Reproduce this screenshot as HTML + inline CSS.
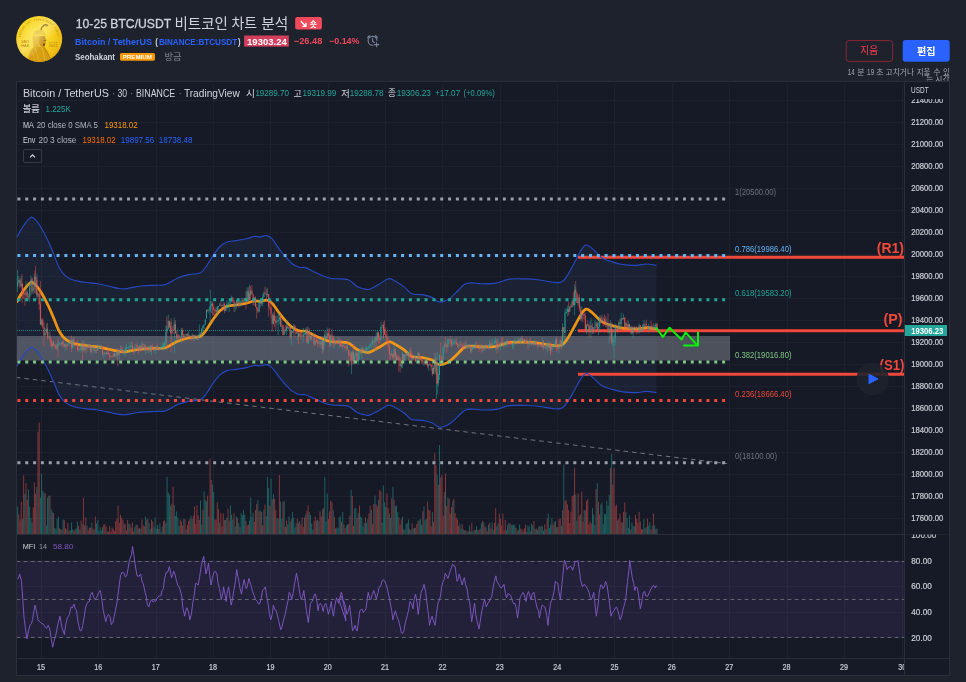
<!DOCTYPE html>
<html><head><meta charset="utf-8"><title>chart</title>
<style>html,body{margin:0;padding:0;background:#1e222d;width:966px;height:682px;overflow:hidden;font-family:"Liberation Sans","Noto Sans CJK KR",sans-serif}</style></head>
<body><svg width="966" height="682" viewBox="0 0 966 682" font-family="Liberation Sans, Noto Sans CJK KR, sans-serif" style="position:absolute;left:0;top:0;will-change:transform"><defs><radialGradient id="coin" cx="40%" cy="36%" r="72%"><stop offset="0" stop-color="#fbe338"/><stop offset=".55" stop-color="#f7cf1e"/><stop offset=".85" stop-color="#efbb14"/><stop offset="1" stop-color="#dda010"/></radialGradient>
<linearGradient id="shine" x1="0" y1="0" x2="1" y2="1"><stop offset=".22" stop-color="#fff" stop-opacity="0"/><stop offset=".45" stop-color="#fff9a8" stop-opacity=".42"/><stop offset=".62" stop-color="#fff" stop-opacity="0"/></linearGradient>
<clipPath id="coinc"><circle cx="39.2" cy="39" r="23"/></clipPath></defs>
<circle cx="39.2" cy="39" r="23" fill="url(#coin)"/>
<g clip-path="url(#coinc)">
<path d="M28.6 58.5C28.8 53.5 30.4 49.6 33.6 47.2L38.6 46.2L43.6 46.6C45.4 48.4 47.6 51 49 54.4C49.8 56.4 50.2 58 50.4 59.6C44 64 35 63.6 28.6 58.5Z" fill="#d49a14" fill-opacity=".9"/>
<path d="M34.4 47.6C36.4 51 37.8 55 38.4 60.4M31.4 50.8C33.2 53.4 34.2 56.6 34.6 60M41.4 47C43 50.6 44.2 55 44.6 60" stroke="#f6d340" stroke-width=".55" fill="none" opacity=".8"/>
<path d="M43.9 46.8C46.2 50.4 48.6 54.4 50.2 58.4" stroke="#b07a0c" stroke-width=".6" fill="none"/>
<path d="M32.9 36.6C32.3 40 32.6 43.6 33.8 47.2L39 47L39.4 36.4Z" fill="#d9a21a" fill-opacity=".85"/>
<path d="M39.2 36.2L45.1 35.8C45.3 37.4 45.5 38.6 46.5 40.2C46.3 40.9 45.7 41.1 45.5 41.3C45.6 42.6 45.5 43.6 45.1 44.6C44.7 46 43.6 46.8 42.4 46.6C41 46.4 39.8 45.6 39.2 44.4Z" fill="#c58a12" fill-opacity=".9"/>
<path d="M43 43.4C43.8 43 44.8 43.1 45.3 43.4C45.3 44.6 44.9 46 44 46.6C43.2 46.4 42.8 45 43 43.4Z" fill="#70460a" fill-opacity=".85"/>
<path d="M43.2 40.9C44 40.3 45.2 40.4 46 40.9" stroke="#70460a" stroke-width=".7" fill="none"/>
<path d="M42.6 38.2H44.4" stroke="#8a5a0a" stroke-width=".5" fill="none"/>
<path d="M32.7 37C32.6 33.4 34.6 30.4 38.2 29.6C41.8 28.9 44.6 31 45.2 34.2C45.3 34.9 45.3 35.5 45.2 36C41 35 36.6 35.4 32.7 37Z" fill="#f0c226"/>
<path d="M33.6 34.2C37 32.6 41.4 32.4 44.8 33.4M34.6 32C37.6 30.8 41.2 30.8 43.8 31.6" stroke="#c99212" stroke-width=".45" fill="none" opacity=".85"/>
<path d="M36.6 30.6C35.4 31.8 34.8 33.6 34.8 35.6" stroke="#fbe66a" stroke-width=".7" fill="none" opacity=".8"/>
<path d="M40.9 29.8C41.4 27.8 42.4 26.2 44 25.2C45.2 24.5 46.8 24.6 47.8 25.6" stroke="#6a4508" stroke-width="1.15" fill="none" stroke-linecap="round"/>
<path d="M44 25.2C44.8 25.8 45.8 26.2 46.8 26.2" stroke="#6a4508" stroke-width=".6" fill="none" stroke-linecap="round"/>
</g>
<circle cx="39.2" cy="39" r="23" fill="url(#shine)"/>
<text x="21.20" y="43.10" font-size="2.90" fill="#b07f0c" text-anchor="start" font-weight="normal" textLength="8.20" lengthAdjust="spacingAndGlyphs" >SEO</text>
<text x="21.20" y="46.60" font-size="2.90" fill="#b07f0c" text-anchor="start" font-weight="normal" textLength="8.20" lengthAdjust="spacingAndGlyphs" >HAK</text>
<text x="48.60" y="42.90" font-size="2.50" fill="#b07f0c" text-anchor="start" font-weight="normal" textLength="9.00" lengthAdjust="spacingAndGlyphs" >SINCE</text>
<text x="48.60" y="46.60" font-size="3.30" fill="#b07f0c" text-anchor="start" font-weight="normal" textLength="9.00" lengthAdjust="spacingAndGlyphs" >2021</text>
<text x="0" y="0" font-size="2.5" fill="#b07f0c" text-anchor="middle" transform="translate(20.78 36.41) rotate(-82.0)">S</text>
<text x="0" y="0" font-size="2.5" fill="#b07f0c" text-anchor="middle" transform="translate(21.17 34.43) rotate(-75.8)">E</text>
<text x="0" y="0" font-size="2.5" fill="#b07f0c" text-anchor="middle" transform="translate(21.77 32.50) rotate(-69.5)">O</text>
<text x="0" y="0" font-size="2.5" fill="#b07f0c" text-anchor="middle" transform="translate(22.58 30.64) rotate(-63.3)">H</text>
<text x="0" y="0" font-size="2.5" fill="#b07f0c" text-anchor="middle" transform="translate(23.59 28.89) rotate(-57.1)">A</text>
<text x="0" y="0" font-size="2.5" fill="#b07f0c" text-anchor="middle" transform="translate(24.78 27.26) rotate(-50.8)">K</text>
<text x="0" y="0" font-size="2.5" fill="#b07f0c" text-anchor="middle" transform="translate(27.65 24.42) rotate(-38.4)">A</text>
<text x="0" y="0" font-size="2.5" fill="#b07f0c" text-anchor="middle" transform="translate(29.30 23.25) rotate(-32.2)">N</text>
<text x="0" y="0" font-size="2.5" fill="#b07f0c" text-anchor="middle" transform="translate(31.07 22.27) rotate(-25.9)">T</text>
<text x="0" y="0" font-size="2.5" fill="#b07f0c" text-anchor="middle" transform="translate(34.87 20.91) rotate(-13.5)">I</text>
<text x="0" y="0" font-size="2.5" fill="#b07f0c" text-anchor="middle" transform="translate(36.86 20.55) rotate(-7.2)">N</text>
<text x="0" y="0" font-size="2.5" fill="#b07f0c" text-anchor="middle" transform="translate(38.88 20.40) rotate(-1.0)">V</text>
<text x="0" y="0" font-size="2.5" fill="#b07f0c" text-anchor="middle" transform="translate(40.90 20.48) rotate(5.2)">E</text>
<text x="0" y="0" font-size="2.5" fill="#b07f0c" text-anchor="middle" transform="translate(42.90 20.77) rotate(11.5)">S</text>
<text x="0" y="0" font-size="2.5" fill="#b07f0c" text-anchor="middle" transform="translate(44.85 21.28) rotate(17.7)">T</text>
<text x="0" y="0" font-size="2.5" fill="#b07f0c" text-anchor="middle" transform="translate(46.74 22.00) rotate(23.9)">M</text>
<text x="0" y="0" font-size="2.5" fill="#b07f0c" text-anchor="middle" transform="translate(48.54 22.92) rotate(30.2)">E</text>
<text x="0" y="0" font-size="2.5" fill="#b07f0c" text-anchor="middle" transform="translate(50.23 24.03) rotate(36.4)">N</text>
<text x="0" y="0" font-size="2.5" fill="#b07f0c" text-anchor="middle" transform="translate(51.79 25.31) rotate(42.6)">T</text>
<text x="0" y="0" font-size="2.5" fill="#b07f0c" text-anchor="middle" transform="translate(54.45 28.35) rotate(55.1)">F</text>
<text x="0" y="0" font-size="2.5" fill="#b07f0c" text-anchor="middle" transform="translate(55.52 30.07) rotate(61.3)">O</text>
<text x="0" y="0" font-size="2.5" fill="#b07f0c" text-anchor="middle" transform="translate(56.39 31.89) rotate(67.5)">R</text>
<text x="0" y="0" font-size="2.5" fill="#b07f0c" text-anchor="middle" transform="translate(57.06 33.80) rotate(73.8)">U</text>
<text x="0" y="0" font-size="2.5" fill="#b07f0c" text-anchor="middle" transform="translate(57.52 35.77) rotate(80.0)">M</text>
<text x="75.80" y="27.90" font-size="13.00" fill="#d1d4dc" text-anchor="start" font-weight="normal" textLength="95.40" lengthAdjust="spacingAndGlyphs" stroke="#d1d4dc" stroke-width=".3">10-25 BTC/USDT</text>
<text x="174.50" y="28.66" font-size="14.58" fill="#d1d4dc" text-anchor="start" font-weight="normal" textLength="53.50" lengthAdjust="spacingAndGlyphs">비트코인</text>
<text x="231.40" y="28.47" font-size="14.07" fill="#d1d4dc" text-anchor="start" font-weight="normal" textLength="25.70" lengthAdjust="spacingAndGlyphs">차트</text>
<text x="261.20" y="28.75" font-size="14.84" fill="#d1d4dc" text-anchor="start" font-weight="normal" textLength="27.10" lengthAdjust="spacingAndGlyphs">분석</text>
<rect x="295.2" y="17" width="26.7" height="12.6" rx="2" fill="#f04a5c"/>
<path d="M300.8 21.2L305.8 26.2M302.4 26.4H306V22.8" stroke="#fff" stroke-width="1.3" fill="none"/>
<text x="309.80" y="26.62" font-size="7.88" fill="#ffffff" text-anchor="start" font-weight="bold">숏</text>
<text x="75.00" y="44.80" font-size="8.70" fill="#2962ff" text-anchor="start" font-weight="bold" textLength="77.00" lengthAdjust="spacingAndGlyphs" >Bitcoin / TetherUS</text>
<text x="155.30" y="44.80" font-size="8.70" fill="#d1d4dc" text-anchor="start" font-weight="bold" textLength="2.60" lengthAdjust="spacingAndGlyphs" >(</text>
<text x="158.90" y="44.80" font-size="8.70" fill="#2962ff" text-anchor="start" font-weight="bold" textLength="78.20" lengthAdjust="spacingAndGlyphs" >BINANCE:BTCUSDT</text>
<text x="238.00" y="44.80" font-size="8.70" fill="#d1d4dc" text-anchor="start" font-weight="bold" textLength="2.60" lengthAdjust="spacingAndGlyphs" >)</text>
<rect x="244.1" y="35.5" width="44.7" height="11.1" fill="#d23f5d"/>
<text x="247.10" y="44.60" font-size="9.40" fill="#ffffff" text-anchor="start" font-weight="bold" textLength="39.60" lengthAdjust="spacingAndGlyphs" >19303.24</text>
<text x="293.80" y="44.30" font-size="8.80" fill="#f0475a" text-anchor="start" font-weight="bold" textLength="28.50" lengthAdjust="spacingAndGlyphs" >−26.48</text>
<text x="329.00" y="44.30" font-size="8.80" fill="#f0475a" text-anchor="start" font-weight="bold" textLength="30.50" lengthAdjust="spacingAndGlyphs" >−0.14%</text>
<g stroke="#78849a" stroke-width="1.15" fill="none" stroke-linecap="round"><path d="M376.85 40.3A4.4 4.4 0 1 0 372.9 45.2"/><path d="M372.5 38.6V41.3L374.3 42.5"/><path d="M367.9 37.6L369.5 35.9M377.2 37.6L375.6 35.9" stroke-width="1.5"/><path d="M376.6 42.5V46.7M374.5 44.6H378.8" stroke-width="1.1"/></g>
<text x="75.00" y="59.70" font-size="8.60" fill="#d1d4dc" text-anchor="start" font-weight="bold" textLength="40.00" lengthAdjust="spacingAndGlyphs" >Seohakant</text>
<rect x="120" y="53" width="35" height="7.7" rx="1.6" fill="#ff9800"/>
<text x="122.70" y="59.20" font-size="5.90" fill="#ffffff" text-anchor="start" font-weight="bold" textLength="29.30" lengthAdjust="spacingAndGlyphs" >PREMIUM</text>
<text x="164.50" y="59.56" font-size="9.22" fill="#868993" text-anchor="start" font-weight="normal" textLength="16.90" lengthAdjust="spacingAndGlyphs">방금</text>
<rect x="846.2" y="40.6" width="46.5" height="20.8" rx="3" fill="none" stroke="#8c2733" stroke-width="1"/>
<text x="860.30" y="54.38" font-size="9.83" fill="#d83a4a" text-anchor="start" font-weight="normal" stroke="#d83a4a" stroke-width=".2" textLength="17.80" lengthAdjust="spacingAndGlyphs">지움</text>
<rect x="902.7" y="40.1" width="47" height="21.6" rx="3" fill="#2962ff"/>
<text x="917.00" y="54.50" font-size="10.30" fill="#ffffff" text-anchor="start" font-weight="bold" textLength="18.60" lengthAdjust="spacingAndGlyphs">편집</text>
<text x="847.80" y="74.70" font-size="8.20" fill="#a3a6b0" text-anchor="start" font-weight="normal" textLength="6.90" lengthAdjust="spacingAndGlyphs" >14</text>
<text x="857.20" y="74.74" font-size="7.93" fill="#a3a6b0" text-anchor="start" font-weight="normal">분</text>
<text x="867.10" y="74.70" font-size="8.20" fill="#a3a6b0" text-anchor="start" font-weight="normal" textLength="7.10" lengthAdjust="spacingAndGlyphs" >19</text>
<text x="876.10" y="75.30" font-size="8.30" fill="#a3a6b0" text-anchor="start" font-weight="normal">초</text>
<text x="885.60" y="74.71" font-size="7.78" fill="#a3a6b0" text-anchor="start" font-weight="normal" textLength="28.50" lengthAdjust="spacingAndGlyphs">고치거나</text>
<text x="916.70" y="74.64" font-size="7.60" fill="#a3a6b0" text-anchor="start" font-weight="normal" textLength="13.80" lengthAdjust="spacingAndGlyphs">지울</text>
<text x="933.20" y="74.65" font-size="7.95" fill="#a3a6b0" text-anchor="start" font-weight="normal">수</text>
<text x="942.90" y="74.61" font-size="7.48" fill="#a3a6b0" text-anchor="start" font-weight="normal">있</text>
<text x="926.30" y="82.09" font-size="7.56" fill="#a3a6b0" text-anchor="start" font-weight="normal">는</text>
<text x="935.30" y="82.21" font-size="7.78" fill="#a3a6b0" text-anchor="start" font-weight="normal" textLength="14.20" lengthAdjust="spacingAndGlyphs">시간</text>
<rect x="16.5" y="81.5" width="933.0" height="594.0" fill="#161a26" stroke="#2a2e39" stroke-width="1"/>
<clipPath id="cpm"><rect x="17.0" y="82.0" width="887.0" height="452.0"/></clipPath>
<clipPath id="cpi"><rect x="17.0" y="535.0" width="887.0" height="123.0"/></clipPath>
<clipPath id="cpa"><rect x="904.5" y="82.0" width="45.0" height="577.0"/></clipPath>
<path d="M41.5 81.5V658.5M98.5 81.5V658.5M156.5 81.5V658.5M213.5 81.5V658.5M270.5 81.5V658.5M328.5 81.5V658.5M385.5 81.5V658.5M442.5 81.5V658.5M500.5 81.5V658.5M557.5 81.5V658.5M614.5 81.5V658.5M672.5 81.5V658.5M729.5 81.5V658.5M787.5 81.5V658.5M844.5 81.5V658.5M902.5 81.5V658.5M16.5 518.5H904.5M16.5 496.5H904.5M16.5 474.5H904.5M16.5 452.5H904.5M16.5 430.5H904.5M16.5 408.5H904.5M16.5 386.5H904.5M16.5 364.5H904.5M16.5 342.5H904.5M16.5 320.5H904.5M16.5 298.5H904.5M16.5 276.5H904.5M16.5 254.5H904.5M16.5 232.5H904.5M16.5 210.5H904.5M16.5 188.5H904.5M16.5 166.5H904.5M16.5 144.5H904.5M16.5 122.5H904.5M16.5 100.5H904.5M16.5 637.5H904.5M16.5 612.5H904.5M16.5 586.5H904.5M16.5 561.5H904.5" stroke="#1d212d" stroke-width="1" fill="none"/>
<path d="M16.5 534.5H949.5M16.5 658.5H949.5M904.5 81.5V675.5" stroke="#2a2e39" stroke-width="1" fill="none"/>
<g clip-path="url(#cpm)">
<path d="M16.90 237.43C17.42 236.41 18.98 233.17 20.00 231.35C21.02 229.53 21.83 228.23 23.00 226.51C24.17 224.79 25.67 222.59 27.00 221.05C28.33 219.50 29.83 217.67 31.00 217.24C32.17 216.81 32.98 217.75 34.00 218.47C35.02 219.20 35.70 219.68 37.10 221.56C38.50 223.45 40.48 226.41 42.40 229.80C44.32 233.20 46.68 237.82 48.60 241.96C50.52 246.10 52.15 250.39 53.90 254.63C55.65 258.87 57.35 264.02 59.10 267.40C60.85 270.78 62.58 273.03 64.40 274.92C66.22 276.81 67.63 277.65 70.00 278.73C72.37 279.81 75.27 280.72 78.60 281.41C81.93 282.09 86.82 282.45 90.00 282.85C93.18 283.24 94.37 283.18 97.70 283.78C101.03 284.38 106.62 285.70 110.00 286.45C113.38 287.21 115.60 287.91 118.00 288.31C120.40 288.70 121.73 289.01 124.40 288.82C127.07 288.63 130.82 287.69 134.00 287.18C137.18 286.66 140.00 286.04 143.50 285.73C147.00 285.42 151.50 285.46 155.00 285.32C158.50 285.18 162.00 285.41 164.50 284.91C167.00 284.41 167.78 283.50 170.00 282.33C172.22 281.17 174.75 279.19 177.80 277.91C180.85 276.62 184.50 275.47 188.30 274.61C192.10 273.75 197.52 274.27 200.60 272.76C203.68 271.24 204.73 268.41 206.80 265.55C208.87 262.68 210.80 258.73 213.00 255.55C215.20 252.38 217.67 248.76 220.00 246.49C222.33 244.22 224.35 242.94 227.00 241.96C229.65 240.98 232.67 241.15 235.90 240.62C239.13 240.09 243.33 239.45 246.40 238.77C249.47 238.08 251.95 236.83 254.30 236.50C256.65 236.17 258.43 236.96 260.50 236.81C262.57 236.65 264.78 235.26 266.70 235.57C268.62 235.88 270.10 236.71 272.00 238.66C273.90 240.62 275.90 244.34 278.10 247.31C280.30 250.28 282.85 253.75 285.20 256.48C287.55 259.21 289.87 261.89 292.20 263.69C294.53 265.49 297.00 266.64 299.20 267.30C301.40 267.95 303.20 267.00 305.40 267.61C307.60 268.21 309.62 269.60 312.40 270.90C315.18 272.21 319.17 274.21 322.10 275.43C325.03 276.65 327.68 277.67 330.00 278.21C332.32 278.76 332.95 278.47 336.00 278.73C339.05 278.99 344.78 278.47 348.30 279.76C351.82 281.05 354.48 284.94 357.10 286.45C359.72 287.97 361.93 288.36 364.00 288.82C366.07 289.29 367.12 289.92 369.50 289.24C371.88 288.55 375.08 286.45 378.30 284.70C381.52 282.95 385.87 279.24 388.80 278.73C391.73 278.21 393.25 280.17 395.90 281.61C398.55 283.06 402.07 285.36 404.70 287.38C407.33 289.41 408.77 292.55 411.70 293.77C414.63 294.99 418.92 294.09 422.30 294.69C425.68 295.30 429.37 296.22 432.00 297.37C434.63 298.52 436.20 300.89 438.10 301.60C440.00 302.30 441.35 302.21 443.40 301.60C445.45 300.98 448.05 299.66 450.40 297.89C452.75 296.12 455.15 293.27 457.50 290.99C459.85 288.70 462.15 285.54 464.50 284.19C466.85 282.83 468.67 282.92 471.60 282.85C474.53 282.78 478.03 283.72 482.10 283.78C486.17 283.83 491.48 283.93 496.00 283.16C500.52 282.39 504.37 279.85 509.20 279.14C514.03 278.44 520.17 278.83 525.00 278.94C529.83 279.04 533.57 279.21 538.20 279.76C542.83 280.31 548.83 281.91 552.80 282.23C556.77 282.56 559.37 283.18 562.00 281.72C564.63 280.26 566.40 276.89 568.60 273.48C570.80 270.06 573.00 265.29 575.20 261.22C577.40 257.15 579.90 251.78 581.80 249.07C583.70 246.35 584.62 244.81 586.60 244.95C588.58 245.08 591.20 247.76 593.70 249.89C596.20 252.02 598.52 255.73 601.60 257.72C604.68 259.71 608.68 260.70 612.20 261.84C615.72 262.97 618.75 263.93 622.70 264.52C626.65 265.10 631.93 265.43 635.90 265.34C639.87 265.25 643.07 264.00 646.50 264.00C649.93 264.00 654.83 265.12 656.50 265.34 L656.50 392.66 L656.50 392.66C654.83 392.45 649.93 391.40 646.50 391.40C643.07 391.40 639.87 392.58 635.90 392.66C631.93 392.74 626.65 392.43 622.70 391.88C618.75 391.33 615.72 390.43 612.20 389.36C608.68 388.30 604.68 387.36 601.60 385.48C598.52 383.61 596.20 380.12 593.70 378.11C591.20 376.11 588.58 373.58 586.60 373.45C584.62 373.33 583.70 374.78 581.80 377.33C579.90 379.89 577.40 384.95 575.20 388.78C573.00 392.61 570.80 397.11 568.60 400.32C566.40 403.54 564.63 406.71 562.00 408.08C559.37 409.46 556.77 408.88 552.80 408.57C548.83 408.26 542.83 406.76 538.20 406.24C533.57 405.72 529.83 405.56 525.00 405.46C520.17 405.37 514.03 405.00 509.20 405.66C504.37 406.32 500.52 408.71 496.00 409.44C491.48 410.17 486.17 410.07 482.10 410.02C478.03 409.98 474.53 409.09 471.60 409.15C468.67 409.22 466.85 409.13 464.50 410.41C462.15 411.69 459.85 414.66 457.50 416.81C455.15 418.96 452.75 421.65 450.40 423.31C448.05 424.98 445.45 426.22 443.40 426.80C441.35 427.39 440.00 427.47 438.10 426.80C436.20 426.14 434.63 423.91 432.00 422.83C429.37 421.74 425.68 420.87 422.30 420.31C418.92 419.74 414.63 420.58 411.70 419.43C408.77 418.28 407.33 415.33 404.70 413.42C402.07 411.51 398.55 409.34 395.90 407.99C393.25 406.63 391.73 404.79 388.80 405.27C385.87 405.76 381.52 409.25 378.30 410.90C375.08 412.55 371.88 414.52 369.50 415.16C367.12 415.81 366.07 415.21 364.00 414.78C361.93 414.34 359.72 413.97 357.10 412.55C354.48 411.12 351.82 407.45 348.30 406.24C344.78 405.03 339.05 405.51 336.00 405.27C332.95 405.03 332.32 405.30 330.00 404.79C327.68 404.27 325.03 403.31 322.10 402.17C319.17 401.02 315.18 399.13 312.40 397.90C309.62 396.67 307.60 395.36 305.40 394.79C303.20 394.23 301.40 395.12 299.20 394.50C297.00 393.89 294.53 392.81 292.20 391.11C289.87 389.41 287.55 386.89 285.20 384.32C282.85 381.75 280.30 378.48 278.10 375.69C275.90 372.89 273.90 369.38 272.00 367.54C270.10 365.69 268.62 364.92 266.70 364.63C264.78 364.34 262.57 365.65 260.50 365.79C258.43 365.94 256.65 365.19 254.30 365.50C251.95 365.81 249.47 366.99 246.40 367.63C243.33 368.28 239.13 368.88 235.90 369.38C232.67 369.88 229.65 369.72 227.00 370.64C224.35 371.56 222.33 372.78 220.00 374.91C217.67 377.04 215.20 380.45 213.00 383.45C210.80 386.44 208.87 390.15 206.80 392.85C204.73 395.55 203.68 398.22 200.60 399.64C197.52 401.07 192.10 400.58 188.30 401.39C184.50 402.20 180.85 403.28 177.80 404.49C174.75 405.71 172.22 407.57 170.00 408.67C167.78 409.76 167.00 410.62 164.50 411.09C162.00 411.56 158.50 411.35 155.00 411.48C151.50 411.61 147.00 411.58 143.50 411.87C140.00 412.16 137.18 412.74 134.00 413.22C130.82 413.71 127.07 414.60 124.40 414.78C121.73 414.95 120.40 414.66 118.00 414.29C115.60 413.92 113.38 413.26 110.00 412.55C106.62 411.83 101.03 410.59 97.70 410.02C94.37 409.46 93.18 409.52 90.00 409.15C86.82 408.78 81.93 408.44 78.60 407.79C75.27 407.15 72.37 406.29 70.00 405.27C67.63 404.25 66.22 403.46 64.40 401.68C62.58 399.90 60.85 397.79 59.10 394.60C57.35 391.42 55.65 386.57 53.90 382.57C52.15 378.58 50.52 374.54 48.60 370.64C46.68 366.75 44.32 362.40 42.40 359.20C40.48 355.99 38.50 353.21 37.10 351.44C35.70 349.66 35.02 349.20 34.00 348.53C32.98 347.85 32.17 346.96 31.00 347.36C29.83 347.77 28.33 349.50 27.00 350.95C25.67 352.41 24.17 354.47 23.00 356.09C21.83 357.71 21.02 358.94 20.00 360.65C18.98 362.36 17.42 365.42 16.90 366.37 Z" fill="#5a88f0" fill-opacity="0.07"/>
<path d="M17.70 534.5V506.5M22.48 534.5V519.0M24.87 534.5V493.8M28.45 534.5V489.5M29.65 534.5V506.6M30.84 534.5V517.8M32.03 534.5V522.6M36.81 534.5V487.0M40.40 534.5V497.7M41.59 534.5V473.5M42.79 534.5V490.6M43.98 534.5V492.6M46.38 534.5V525.5M47.57 534.5V497.6M48.77 534.5V495.8M51.16 534.5V509.2M52.35 534.5V511.5M54.74 534.5V528.1M55.94 534.5V528.7M57.13 534.5V518.8M58.33 534.5V516.5M61.91 534.5V529.7M63.11 534.5V519.5M66.69 534.5V529.5M70.28 534.5V530.0M71.47 534.5V522.5M72.67 534.5V529.2M76.25 534.5V528.2M77.44 534.5V521.7M79.84 534.5V529.7M82.23 534.5V523.7M87.01 534.5V525.5M91.79 534.5V522.8M94.17 534.5V529.7M96.56 534.5V523.4M97.76 534.5V520.2M98.95 534.5V531.2M100.15 534.5V527.3M101.34 534.5V530.3M102.54 534.5V527.3M107.32 534.5V531.1M124.05 534.5V523.5M128.83 534.5V523.8M134.81 534.5V527.2M136.00 534.5V524.5M138.39 534.5V528.6M140.78 534.5V528.8M145.56 534.5V516.5M147.95 534.5V518.6M149.15 534.5V523.1M150.34 534.5V529.0M153.93 534.5V527.4M155.12 534.5V517.5M156.31 534.5V528.8M157.51 534.5V524.9M159.90 534.5V523.4M161.09 534.5V531.8M162.29 534.5V526.5M165.88 534.5V523.4M167.07 534.5V476.9M168.27 534.5V492.5M169.46 534.5V494.5M170.66 534.5V505.8M174.24 534.5V505.0M175.44 534.5V516.0M176.63 534.5V511.5M177.83 534.5V517.6M179.02 534.5V525.8M183.80 534.5V518.8M186.19 534.5V529.8M190.97 534.5V515.8M192.17 534.5V518.9M200.53 534.5V500.5M201.73 534.5V524.5M204.12 534.5V491.5M205.31 534.5V499.8M206.51 534.5V501.3M208.90 534.5V516.3M212.48 534.5V484.5M213.68 534.5V492.0M219.65 534.5V522.6M224.43 534.5V520.0M226.82 534.5V517.8M230.41 534.5V505.5M231.60 534.5V514.7M232.80 534.5V519.5M235.19 534.5V526.5M236.38 534.5V516.5M238.77 534.5V523.0M241.16 534.5V513.4M242.36 534.5V515.4M243.55 534.5V510.0M244.75 534.5V514.8M249.53 534.5V520.7M250.72 534.5V497.5M251.92 534.5V516.7M253.11 534.5V512.6M257.89 534.5V500.0M260.28 534.5V510.2M263.87 534.5V509.7M266.25 534.5V516.1M267.45 534.5V476.9M268.64 534.5V487.9M271.04 534.5V478.8M273.43 534.5V494.0M277.01 534.5V517.7M278.21 534.5V518.7M280.60 534.5V501.4M281.79 534.5V518.9M284.18 534.5V500.8M287.76 534.5V524.5M288.96 534.5V516.5M290.16 534.5V521.7M292.55 534.5V511.8M293.74 534.5V517.7M294.94 534.5V527.4M296.13 534.5V523.5M299.72 534.5V520.9M305.69 534.5V514.5M309.28 534.5V512.3M310.47 534.5V514.9M311.67 534.5V523.6M312.86 534.5V529.6M316.44 534.5V520.5M318.84 534.5V521.1M322.42 534.5V509.4M324.81 534.5V476.9M326.00 534.5V521.3M327.20 534.5V493.5M333.18 534.5V509.9M336.76 534.5V527.5M337.96 534.5V528.2M339.15 534.5V517.5M340.35 534.5V516.4M342.74 534.5V511.8M346.32 534.5V525.6M347.52 534.5V524.2M351.10 534.5V489.8M354.69 534.5V508.5M355.88 534.5V508.3M358.27 534.5V513.0M360.66 534.5V516.5M361.86 534.5V517.9M363.05 534.5V526.7M364.25 534.5V523.1M366.63 534.5V523.1M367.83 534.5V519.2M371.42 534.5V509.9M375.00 534.5V495.5M378.59 534.5V499.9M382.17 534.5V522.7M383.37 534.5V485.5M384.56 534.5V502.4M385.75 534.5V507.1M389.34 534.5V513.4M390.54 534.5V518.1M392.93 534.5V486.8M395.31 534.5V506.4M396.51 534.5V505.5M397.71 534.5V512.3M402.49 534.5V516.5M404.88 534.5V529.9M406.07 534.5V524.2M407.27 534.5V523.0M408.46 534.5V519.5M410.85 534.5V530.4M413.24 534.5V528.5M415.63 534.5V527.8M419.22 534.5V520.2M420.41 534.5V519.0M421.61 534.5V524.9M424.00 534.5V506.5M425.19 534.5V520.3M426.39 534.5V518.8M432.36 534.5V511.8M437.14 534.5V474.5M439.53 534.5V445.0M444.31 534.5V492.0M447.90 534.5V497.5M452.68 534.5V501.4M459.85 534.5V523.7M461.04 534.5V528.4M463.43 534.5V529.5M464.62 534.5V530.7M467.02 534.5V531.7M469.41 534.5V525.4M470.60 534.5V531.5M472.99 534.5V531.6M474.19 534.5V530.3M476.58 534.5V526.2M477.77 534.5V530.1M481.36 534.5V523.2M483.75 534.5V522.2M486.14 534.5V527.3M488.53 534.5V524.5M492.11 534.5V522.2M493.31 534.5V529.8M496.89 534.5V526.2M498.09 534.5V523.5M506.45 534.5V530.4M507.65 534.5V524.8M508.84 534.5V522.8M511.23 534.5V524.6M512.42 534.5V525.4M513.62 534.5V524.4M514.82 534.5V525.4M518.40 534.5V530.0M519.60 534.5V524.5M523.18 534.5V531.3M526.77 534.5V531.8M527.96 534.5V525.4M529.15 534.5V526.6M531.55 534.5V523.7M532.74 534.5V525.5M535.13 534.5V529.0M537.52 534.5V530.2M538.72 534.5V526.8M541.11 534.5V526.5M542.30 534.5V526.2M543.50 534.5V530.7M545.88 534.5V529.0M548.27 534.5V513.5M549.47 534.5V527.9M550.67 534.5V524.8M551.86 534.5V517.9M555.45 534.5V520.9M556.64 534.5V527.3M561.42 534.5V525.7M563.81 534.5V464.8M575.76 534.5V494.5M576.96 534.5V520.9M580.54 534.5V514.3M585.32 534.5V510.4M592.49 534.5V508.1M593.69 534.5V514.5M594.88 534.5V525.0M597.27 534.5V483.2M600.86 534.5V504.5M602.05 534.5V502.5M603.25 534.5V524.2M604.44 534.5V513.6M605.63 534.5V514.6M606.83 534.5V500.8M608.02 534.5V505.9M609.22 534.5V494.8M611.61 534.5V453.8M617.59 534.5V520.5M622.37 534.5V522.7M625.95 534.5V512.2M627.14 534.5V518.0M628.34 534.5V527.8M629.54 534.5V515.5M631.93 534.5V522.4M633.12 534.5V525.6M634.32 534.5V526.4M643.88 534.5V519.1M645.07 534.5V528.2M646.26 534.5V527.0M648.66 534.5V525.3M649.85 534.5V522.1M652.24 534.5V525.6M654.63 534.5V525.4M657.02 534.5V528.5" stroke="#26a69a" stroke-opacity=".5" stroke-width="1" fill="none"/>
<path d="M16.50 534.5V519.2M18.89 534.5V514.4M20.09 534.5V520.3M21.28 534.5V501.8M23.67 534.5V475.5M26.06 534.5V483.3M27.26 534.5V499.9M33.23 534.5V507.3M34.42 534.5V482.5M35.62 534.5V493.7M38.01 534.5V432.1M39.20 534.5V422.5M45.18 534.5V493.5M49.96 534.5V495.5M53.55 534.5V513.0M59.52 534.5V528.4M60.72 534.5V529.3M64.30 534.5V520.1M65.50 534.5V528.3M67.89 534.5V522.9M69.08 534.5V530.8M73.86 534.5V531.0M75.06 534.5V529.5M78.64 534.5V525.8M81.03 534.5V520.5M83.42 534.5V497.5M84.62 534.5V525.5M85.81 534.5V517.5M88.20 534.5V530.2M89.40 534.5V527.8M90.59 534.5V527.5M92.98 534.5V528.4M95.37 534.5V516.5M103.73 534.5V524.5M104.93 534.5V524.4M106.12 534.5V526.7M108.52 534.5V531.9M109.71 534.5V526.0M110.91 534.5V531.7M112.10 534.5V527.6M113.30 534.5V529.0M114.49 534.5V531.1M115.69 534.5V521.5M116.88 534.5V519.0M118.08 534.5V505.5M119.27 534.5V522.7M120.47 534.5V514.8M121.66 534.5V517.5M122.86 534.5V519.8M125.25 534.5V524.4M126.44 534.5V530.4M127.64 534.5V520.1M130.03 534.5V524.2M131.22 534.5V527.6M132.42 534.5V522.5M133.61 534.5V531.5M137.19 534.5V525.0M139.59 534.5V527.9M141.98 534.5V519.4M143.17 534.5V525.3M144.37 534.5V526.5M146.75 534.5V519.6M151.53 534.5V519.6M152.73 534.5V521.5M158.71 534.5V528.9M163.49 534.5V521.2M164.68 534.5V520.3M171.85 534.5V503.6M173.05 534.5V486.5M180.22 534.5V519.5M181.41 534.5V521.5M182.61 534.5V525.4M185.00 534.5V519.3M187.39 534.5V524.9M188.58 534.5V521.0M189.78 534.5V519.1M193.36 534.5V515.7M194.56 534.5V506.5M195.75 534.5V523.9M196.95 534.5V505.1M198.14 534.5V515.4M199.34 534.5V520.1M202.92 534.5V509.7M207.70 534.5V495.5M210.09 534.5V458.5M211.28 534.5V480.0M214.87 534.5V519.6M216.06 534.5V519.5M217.26 534.5V502.5M218.46 534.5V509.1M220.84 534.5V512.9M222.04 534.5V526.2M223.24 534.5V513.5M225.62 534.5V519.9M228.02 534.5V508.9M229.21 534.5V520.5M233.99 534.5V513.3M237.58 534.5V518.2M239.97 534.5V526.9M245.94 534.5V520.9M247.14 534.5V525.5M248.33 534.5V524.5M254.31 534.5V521.6M255.50 534.5V510.1M256.70 534.5V504.2M259.09 534.5V511.4M261.48 534.5V511.8M262.67 534.5V525.3M265.06 534.5V504.5M269.84 534.5V505.9M272.23 534.5V499.2M274.62 534.5V498.9M275.81 534.5V509.8M279.40 534.5V475.1M282.99 534.5V501.8M285.38 534.5V526.9M286.57 534.5V520.4M291.35 534.5V519.0M297.32 534.5V519.0M298.52 534.5V522.9M300.91 534.5V524.4M302.11 534.5V517.4M303.30 534.5V526.7M304.50 534.5V517.6M306.88 534.5V510.9M308.08 534.5V505.5M314.06 534.5V521.0M315.25 534.5V516.5M317.64 534.5V519.7M320.03 534.5V511.4M321.23 534.5V516.4M323.62 534.5V508.1M328.40 534.5V518.9M329.59 534.5V511.4M330.79 534.5V500.9M331.98 534.5V502.5M334.37 534.5V516.8M335.56 534.5V528.5M341.54 534.5V522.1M343.93 534.5V524.5M345.12 534.5V528.1M348.71 534.5V524.0M349.91 534.5V515.7M352.30 534.5V496.0M353.49 534.5V526.1M357.08 534.5V517.9M359.47 534.5V505.5M365.44 534.5V517.5M369.03 534.5V513.2M370.22 534.5V505.5M372.61 534.5V524.2M373.81 534.5V504.0M376.19 534.5V504.5M377.39 534.5V506.6M379.78 534.5V489.8M380.98 534.5V491.6M386.95 534.5V493.5M388.15 534.5V508.3M391.73 534.5V498.2M394.12 534.5V500.2M398.90 534.5V517.4M400.10 534.5V524.7M401.29 534.5V519.3M403.68 534.5V529.5M409.66 534.5V529.0M412.05 534.5V523.4M414.44 534.5V527.8M416.83 534.5V524.1M418.02 534.5V520.9M422.80 534.5V511.1M427.58 534.5V501.5M428.78 534.5V509.4M429.97 534.5V510.8M431.17 534.5V526.1M433.56 534.5V521.9M434.75 534.5V453.1M435.95 534.5V465.3M438.34 534.5V485.0M440.73 534.5V477.3M441.92 534.5V475.1M443.12 534.5V515.4M445.50 534.5V473.5M446.70 534.5V505.9M449.09 534.5V498.8M450.29 534.5V513.5M451.48 534.5V507.0M453.87 534.5V498.9M455.06 534.5V513.0M456.26 534.5V517.5M457.46 534.5V519.4M458.65 534.5V525.9M462.24 534.5V524.5M465.82 534.5V530.0M468.21 534.5V531.2M471.80 534.5V522.8M475.38 534.5V529.8M478.97 534.5V530.1M480.16 534.5V528.7M482.55 534.5V520.9M484.94 534.5V526.4M487.33 534.5V531.3M489.72 534.5V522.8M490.92 534.5V528.7M494.50 534.5V523.0M495.70 534.5V508.1M499.28 534.5V513.6M500.48 534.5V518.8M501.67 534.5V525.6M502.87 534.5V513.5M504.06 534.5V530.3M505.26 534.5V519.9M510.04 534.5V523.5M516.01 534.5V528.0M517.21 534.5V531.1M520.79 534.5V528.7M521.99 534.5V529.4M524.38 534.5V528.3M525.57 534.5V524.7M530.35 534.5V531.6M533.94 534.5V520.9M536.33 534.5V528.6M539.91 534.5V525.9M544.69 534.5V524.4M547.08 534.5V518.9M553.06 534.5V524.7M554.25 534.5V522.2M557.84 534.5V527.0M559.03 534.5V519.2M560.23 534.5V518.5M562.62 534.5V510.3M565.00 534.5V501.2M566.20 534.5V500.0M567.39 534.5V504.5M568.59 534.5V509.9M569.79 534.5V523.0M570.98 534.5V511.8M572.18 534.5V496.0M573.37 534.5V495.1M574.57 534.5V467.8M578.15 534.5V493.5M579.35 534.5V515.6M581.74 534.5V491.5M582.93 534.5V521.6M584.12 534.5V509.9M586.51 534.5V500.9M587.71 534.5V498.9M588.91 534.5V524.5M590.10 534.5V521.5M591.30 534.5V523.4M596.08 534.5V489.1M598.47 534.5V501.7M599.66 534.5V514.4M610.42 534.5V467.8M612.81 534.5V484.6M614.00 534.5V467.8M615.20 534.5V506.4M616.39 534.5V504.5M618.78 534.5V518.9M619.98 534.5V513.5M621.17 534.5V522.1M623.56 534.5V512.0M624.75 534.5V502.5M630.73 534.5V529.5M635.51 534.5V514.7M636.71 534.5V518.8M637.90 534.5V522.8M639.10 534.5V511.8M640.29 534.5V521.6M641.49 534.5V529.1M642.68 534.5V529.3M647.46 534.5V518.6M651.05 534.5V529.7M653.44 534.5V513.5M655.83 534.5V529.3" stroke="#ef5350" stroke-opacity=".5" stroke-width="1" fill="none"/>
<path d="M16 377.4L727 463.6" stroke="#71747e" stroke-width="1" stroke-dasharray="4.5 4" fill="none"/>
<rect x="16.5" y="336" width="713.5" height="24.5" fill="#9a9da8" fill-opacity=".42"/>
<path d="M17 330.5H904" stroke="#26a69a" stroke-opacity=".75" stroke-width="1" stroke-dasharray="1 1" fill="none"/>
<path d="M578 257.2H904.5" stroke="#f0483a" stroke-width="3" fill="none"/>
<path d="M578 330.8H904.5" stroke="#f0483a" stroke-width="3" fill="none"/>
<path d="M578 374.3H904.5" stroke="#f0483a" stroke-width="3" fill="none"/>
<path d="M16.90 301.90C17.42 300.92 18.98 297.77 20.00 296.00C21.02 294.23 21.83 292.97 23.00 291.30C24.17 289.63 25.67 287.50 27.00 286.00C28.33 284.50 29.83 282.72 31.00 282.30C32.17 281.88 32.98 282.80 34.00 283.50C35.02 284.20 35.70 284.67 37.10 286.50C38.50 288.33 40.48 291.20 42.40 294.50C44.32 297.80 46.68 302.28 48.60 306.30C50.52 310.32 52.15 314.48 53.90 318.60C55.65 322.72 57.35 327.72 59.10 331.00C60.85 334.28 62.58 336.47 64.40 338.30C66.22 340.13 67.63 340.95 70.00 342.00C72.37 343.05 75.27 343.93 78.60 344.60C81.93 345.27 86.82 345.62 90.00 346.00C93.18 346.38 94.37 346.32 97.70 346.90C101.03 347.48 106.62 348.77 110.00 349.50C113.38 350.23 115.60 350.92 118.00 351.30C120.40 351.68 121.73 351.98 124.40 351.80C127.07 351.62 130.82 350.70 134.00 350.20C137.18 349.70 140.00 349.10 143.50 348.80C147.00 348.50 151.50 348.53 155.00 348.40C158.50 348.27 162.00 348.48 164.50 348.00C167.00 347.52 167.78 346.63 170.00 345.50C172.22 344.37 174.75 342.45 177.80 341.20C180.85 339.95 184.50 338.83 188.30 338.00C192.10 337.17 197.52 337.67 200.60 336.20C203.68 334.73 204.73 331.98 206.80 329.20C208.87 326.42 210.80 322.58 213.00 319.50C215.20 316.42 217.67 312.90 220.00 310.70C222.33 308.50 224.35 307.25 227.00 306.30C229.65 305.35 232.67 305.52 235.90 305.00C239.13 304.48 243.33 303.87 246.40 303.20C249.47 302.53 251.95 301.32 254.30 301.00C256.65 300.68 258.43 301.45 260.50 301.30C262.57 301.15 264.78 299.80 266.70 300.10C268.62 300.40 270.10 301.20 272.00 303.10C273.90 305.00 275.90 308.62 278.10 311.50C280.30 314.38 282.85 317.75 285.20 320.40C287.55 323.05 289.87 325.65 292.20 327.40C294.53 329.15 297.00 330.27 299.20 330.90C301.40 331.53 303.20 330.62 305.40 331.20C307.60 331.78 309.62 333.13 312.40 334.40C315.18 335.67 319.17 337.62 322.10 338.80C325.03 339.98 327.68 340.97 330.00 341.50C332.32 342.03 332.95 341.75 336.00 342.00C339.05 342.25 344.78 341.75 348.30 343.00C351.82 344.25 354.48 348.03 357.10 349.50C359.72 350.97 361.93 351.35 364.00 351.80C366.07 352.25 367.12 352.87 369.50 352.20C371.88 351.53 375.08 349.50 378.30 347.80C381.52 346.10 385.87 342.50 388.80 342.00C391.73 341.50 393.25 343.40 395.90 344.80C398.55 346.20 402.07 348.43 404.70 350.40C407.33 352.37 408.77 355.42 411.70 356.60C414.63 357.78 418.92 356.92 422.30 357.50C425.68 358.08 429.37 358.98 432.00 360.10C434.63 361.22 436.20 363.52 438.10 364.20C440.00 364.88 441.35 364.80 443.40 364.20C445.45 363.60 448.05 362.32 450.40 360.60C452.75 358.88 455.15 356.12 457.50 353.90C459.85 351.68 462.15 348.62 464.50 347.30C466.85 345.98 468.67 346.07 471.60 346.00C474.53 345.93 478.03 346.85 482.10 346.90C486.17 346.95 491.48 347.05 496.00 346.30C500.52 345.55 504.37 343.08 509.20 342.40C514.03 341.72 520.17 342.10 525.00 342.20C529.83 342.30 533.57 342.47 538.20 343.00C542.83 343.53 548.83 345.08 552.80 345.40C556.77 345.72 559.37 346.32 562.00 344.90C564.63 343.48 566.40 340.22 568.60 336.90C570.80 333.58 573.00 328.95 575.20 325.00C577.40 321.05 579.90 315.83 581.80 313.20C583.70 310.57 584.62 309.07 586.60 309.20C588.58 309.33 591.20 311.93 593.70 314.00C596.20 316.07 598.52 319.67 601.60 321.60C604.68 323.53 608.68 324.50 612.20 325.60C615.72 326.70 618.75 327.63 622.70 328.20C626.65 328.77 631.93 329.08 635.90 329.00C639.87 328.92 643.07 327.70 646.50 327.70C649.93 327.70 654.83 328.78 656.50 329.00" stroke="#ff9d10" stroke-opacity=".92" stroke-width="2.7" fill="none" stroke-linejoin="round" stroke-linecap="round"/>
<path d="M16.50 283.84V290.59M17.70 276.44V286.98M18.89 275.94V283.23M21.28 276.32V286.78M26.06 281.06V299.07M29.65 282.92V302.23M30.84 275.33V295.69M33.23 282.29V294.09M34.42 273.62V292.93M38.01 292.36V296.98M41.59 318.52V325.53M45.18 328.02V336.63M46.38 323.50V334.60M48.77 331.59V338.40M52.35 341.41V348.62M57.13 343.70V351.19M58.33 340.09V346.22M59.52 342.41V345.84M61.91 340.84V346.98M65.50 342.74V350.62M67.89 343.41V346.94M69.08 341.98V346.31M70.28 339.32V344.22M72.67 338.06V348.71M76.25 344.55V346.05M79.84 347.85V352.68M81.03 343.59V351.38M83.42 340.54V351.45M85.81 342.76V353.27M88.20 344.33V348.32M91.79 344.69V354.95M92.98 345.55V348.89M95.37 347.79V353.38M97.76 343.88V350.66M98.95 345.31V348.53M101.34 345.02V348.90M103.73 351.51V358.04M104.93 352.39V355.57M107.32 352.18V354.75M112.10 355.59V357.47M114.49 353.00V357.51M116.88 350.11V357.61M119.27 349.43V359.47M120.47 345.29V351.23M124.05 349.26V355.64M125.25 346.64V356.37M126.44 344.25V352.09M127.64 347.58V348.66M128.83 345.87V349.49M130.03 342.74V353.21M131.22 341.61V347.84M134.81 346.01V353.34M136.00 344.02V346.62M139.59 345.16V350.81M141.98 341.88V349.46M145.56 344.07V354.61M149.15 345.78V353.20M151.53 345.26V355.33M155.12 347.60V353.75M156.31 344.91V351.30M159.90 347.74V349.78M161.09 346.41V350.12M162.29 343.40V347.97M163.49 343.00V348.51M164.68 341.37V350.49M165.88 325.44V346.56M167.07 326.19V332.91M168.27 314.59V329.90M171.85 321.56V341.70M174.24 317.54V329.70M177.83 328.66V341.38M181.41 327.95V343.02M185.00 334.31V338.81M186.19 333.64V335.93M188.58 331.40V336.93M192.17 333.23V340.22M194.56 335.17V341.02M198.14 334.59V340.75M199.34 324.44V336.78M201.73 328.03V335.46M202.92 324.84V333.02M204.12 324.43V329.16M205.31 318.57V325.34M206.51 309.56V318.61M208.90 307.70V313.09M210.09 301.46V323.22M211.28 301.12V313.32M217.26 305.81V316.21M218.46 305.86V311.45M219.65 302.89V305.84M223.24 302.15V307.49M225.62 307.32V311.41M226.82 300.07V310.80M228.02 301.38V307.97M229.21 301.42V312.00M230.41 297.68V306.00M231.60 295.58V302.36M235.19 302.83V311.73M236.38 300.18V308.63M239.97 300.74V307.06M241.16 297.63V303.00M243.55 298.19V301.93M244.75 297.83V302.99M247.14 287.49V302.29M249.53 284.65V300.45M250.72 290.24V295.94M254.31 297.30V305.43M259.09 298.99V312.51M260.28 299.09V307.49M262.67 294.42V306.29M263.87 291.11V297.63M267.45 287.74V296.66M273.43 312.11V324.78M277.01 315.89V325.10M278.21 313.45V335.52M279.40 313.70V324.48M281.79 318.88V331.56M284.18 327.28V334.88M286.57 320.30V335.16M288.96 326.59V330.60M291.35 331.06V345.36M293.74 324.02V335.63M297.32 332.11V340.16M299.72 333.04V337.03M303.30 327.94V341.76M304.50 332.96V335.66M305.69 328.07V335.58M308.08 326.23V344.02M311.67 334.87V340.90M312.86 333.69V336.71M315.25 338.13V344.87M318.84 339.01V344.13M321.23 338.53V347.96M323.62 340.07V352.14M324.81 330.88V346.33M327.20 327.55V339.06M330.79 333.80V347.46M334.37 337.78V348.98M339.15 337.58V347.80M342.74 342.77V350.26M346.32 343.73V351.29M349.91 350.64V355.95M352.30 350.35V364.91M354.69 353.83V364.04M355.88 350.25V356.67M358.27 350.21V364.99M359.47 349.87V360.01M361.86 345.47V359.42M365.44 346.91V354.23M366.63 345.86V351.58M367.83 347.73V353.13M369.03 345.44V351.41M370.22 343.60V348.19M371.42 340.92V349.08M372.61 336.94V346.48M375.00 336.44V350.92M377.39 330.16V341.46M380.98 321.58V341.56M382.17 324.73V328.12M391.73 348.90V357.10M394.12 345.82V361.31M397.71 355.75V360.48M401.29 363.64V368.63M402.49 351.66V367.96M404.88 354.21V363.73M407.27 352.28V355.90M409.66 348.90V359.94M413.24 358.37V360.01M414.44 355.22V358.61M416.83 360.10V363.95M418.02 351.99V362.24M424.00 361.54V365.52M426.39 358.62V364.98M428.78 363.94V370.84M433.56 364.98V373.96M434.75 353.17V374.50M438.34 365.49V385.91M439.53 353.73V379.87M443.12 346.22V366.54M444.31 341.32V352.73M447.90 338.47V347.89M449.09 339.38V344.43M452.68 338.52V346.65M453.87 340.60V344.71M455.06 338.85V345.10M459.85 340.87V348.19M464.62 342.46V348.54M467.02 343.29V348.97M469.41 344.26V348.38M471.80 344.48V353.59M472.99 345.44V349.44M475.38 342.06V349.55M480.16 344.40V349.26M482.55 346.39V351.74M484.94 345.14V350.39M488.53 344.07V349.21M489.72 339.82V346.53M492.11 338.83V345.82M493.31 343.80V344.48M494.50 339.25V343.40M495.70 337.32V351.04M498.09 338.44V350.35M500.48 342.36V350.13M504.06 341.76V346.60M505.26 340.89V346.67M507.65 338.71V346.57M512.42 343.50V348.99M513.62 339.97V348.54M514.82 337.33V342.95M517.21 338.41V343.43M518.40 337.73V341.52M520.79 336.95V344.09M523.18 339.00V341.34M525.57 340.04V343.93M529.15 339.96V347.58M531.55 342.36V346.37M532.74 340.51V344.92M535.13 340.10V345.58M538.72 343.91V347.00M542.30 337.93V348.64M544.69 346.48V348.38M547.08 342.65V352.71M549.47 341.24V351.01M551.86 345.34V351.73M553.06 345.29V346.82M554.25 343.36V347.86M555.45 337.83V346.46M559.03 344.80V352.88M560.23 339.29V347.37M562.62 323.29V346.63M565.00 309.11V339.94M566.20 308.08V313.83M567.39 305.56V316.36M569.79 306.07V312.21M572.18 297.69V307.35M574.57 284.27V315.18M578.15 295.27V305.96M581.74 305.94V321.42M586.51 323.95V334.14M590.10 321.05V333.22M593.69 326.97V333.82M594.88 319.69V331.48M596.08 321.75V328.04M598.47 321.78V335.17M599.66 315.83V331.83M602.05 314.79V323.00M606.83 318.16V327.67M609.22 323.26V344.24M610.42 320.25V339.89M612.81 337.36V344.48M614.00 334.92V359.00M615.20 323.50V345.40M618.78 321.00V331.02M621.17 312.98V328.99M623.56 313.55V320.07M625.95 322.58V326.67M628.34 320.64V329.64M630.73 326.38V334.57M633.12 326.88V338.72M635.51 327.10V330.75M639.10 323.36V333.94M641.49 328.19V332.50M642.68 323.52V332.01M643.88 320.07V328.23M648.66 323.32V332.60M649.85 326.09V327.74M652.24 324.99V331.89M654.63 324.60V329.63M655.83 323.01V330.39M17.50 270.00V292.00M37.00 274.00V300.00M351.50 352.00V374.00M383.50 325.00V340.00M436.50 362.00V398.50M437.70 352.00V394.00M575.20 286.50V305.00M612.70 330.00V346.50M210.40 289.50V312.00M174.50 322.00V353.00M591.00 318.00V338.00" stroke="#26a69a" stroke-width=".8" stroke-opacity=".62" fill="none"/>
<path d="M20.09 278.13V288.26M22.48 283.38V298.80M23.67 288.06V298.69M24.87 290.54V305.89M27.26 289.63V299.30M28.45 294.00V299.84M32.03 277.21V294.03M35.62 265.68V294.16M36.81 276.80V296.70M39.20 292.47V309.68M40.40 281.03V325.26M42.79 317.85V328.52M43.98 322.23V346.58M47.57 322.70V340.05M49.96 331.99V342.06M51.16 338.64V347.33M53.55 340.84V345.79M54.74 344.47V348.70M55.94 343.72V350.01M60.72 343.16V345.32M63.11 340.10V347.66M64.30 344.05V347.62M66.69 343.51V349.13M71.47 335.69V352.04M73.86 337.12V346.83M75.06 344.79V345.79M77.44 339.86V351.72M78.64 345.19V350.17M82.23 340.58V350.51M84.62 343.08V352.30M87.01 346.06V351.05M89.40 343.75V348.62M90.59 345.12V353.10M94.17 345.90V353.21M96.56 348.54V353.11M100.15 344.68V348.18M102.54 346.32V356.07M106.12 351.36V354.40M108.52 348.66V354.86M109.71 352.98V360.18M110.91 356.09V357.61M113.30 352.71V357.19M115.69 353.71V357.20M118.08 348.67V355.45M121.66 345.62V353.67M122.86 347.07V353.53M132.42 341.72V349.74M133.61 348.33V354.97M137.19 343.46V350.94M138.39 346.52V354.14M140.78 345.21V352.00M143.17 343.55V348.59M144.37 343.86V350.66M146.75 345.77V350.64M147.95 347.77V352.98M150.34 344.79V351.75M152.73 343.68V349.76M153.93 347.06V351.39M157.51 343.41V350.02M158.71 347.68V350.98M169.46 320.83V328.25M170.66 322.23V334.08M173.05 325.95V334.19M175.44 320.16V333.90M176.63 330.27V339.67M179.02 334.23V341.37M180.22 337.54V339.16M182.61 327.87V337.52M183.80 334.22V340.20M187.39 332.87V338.23M189.78 334.91V337.69M190.97 336.19V341.18M193.36 334.59V340.70M195.75 334.24V336.49M196.95 336.36V339.75M200.53 331.73V335.25M207.70 309.33V311.79M212.48 301.19V315.48M213.68 303.52V315.48M214.87 309.13V317.16M216.06 306.67V313.70M220.84 299.52V306.58M222.04 304.83V311.73M224.43 302.41V313.25M232.80 297.12V302.53M233.99 299.45V312.20M237.58 299.87V303.13M238.77 301.35V307.80M242.36 297.69V304.71M245.94 290.87V309.26M248.33 286.72V302.12M251.92 285.00V294.76M253.11 293.62V305.65M255.50 296.32V307.30M256.70 304.01V318.59M257.89 307.10V312.86M261.48 298.62V305.69M265.06 286.56V294.47M266.25 293.36V294.71M268.64 293.91V316.57M269.84 301.91V309.57M271.04 299.52V318.57M272.23 313.52V332.02M274.62 310.30V327.28M275.81 315.51V331.31M280.60 313.97V327.14M282.99 324.49V335.59M285.38 325.11V332.69M287.76 324.77V328.90M290.16 325.96V339.65M292.55 330.88V333.43M294.94 324.69V338.00M296.13 329.09V333.98M298.52 330.13V344.05M300.91 331.54V339.78M302.11 332.30V337.20M306.88 326.82V342.87M309.28 328.40V341.41M310.47 332.39V339.81M314.06 333.25V346.22M316.44 335.13V342.43M317.64 339.09V346.74M320.03 341.01V347.60M322.42 337.13V353.54M326.00 330.66V340.44M328.40 329.28V337.66M329.59 327.93V347.39M331.98 328.67V340.22M333.18 335.46V347.16M335.56 340.91V345.13M336.76 339.86V343.49M337.96 336.99V344.36M340.35 339.09V347.30M341.54 339.86V347.02M343.93 344.43V346.76M345.12 345.90V350.72M347.52 341.80V350.29M348.71 349.66V366.56M351.10 351.92V365.51M353.49 343.76V364.33M357.08 350.56V361.32M360.66 349.78V354.50M363.05 347.18V350.69M364.25 349.47V352.34M373.81 339.54V349.78M376.19 332.07V351.04M378.59 331.76V343.51M379.78 335.07V344.18M383.37 321.45V339.06M384.56 320.45V335.07M385.75 327.35V337.19M386.95 330.81V342.22M388.15 338.36V348.20M389.34 344.01V360.66M390.54 353.22V359.16M392.93 353.34V359.69M395.31 348.82V359.97M396.51 352.97V361.08M398.90 356.82V360.19M400.10 357.47V372.45M403.68 353.99V363.04M406.07 353.17V357.42M408.46 352.50V360.79M410.85 347.51V358.11M412.05 352.87V364.90M415.63 355.90V362.51M419.22 352.61V362.91M420.41 356.89V359.86M421.61 359.00V364.04M422.80 359.43V364.47M425.19 359.96V365.26M427.58 359.76V368.33M429.97 360.15V365.09M431.17 363.78V370.76M432.36 363.73V376.22M435.95 352.76V374.80M437.14 363.08V384.22M440.73 342.36V364.69M441.92 356.08V362.89M445.50 336.94V348.38M446.70 343.37V352.75M450.29 336.02V345.94M451.48 339.55V347.19M456.26 338.10V344.87M457.46 343.04V347.34M458.65 344.65V349.03M461.04 341.70V344.24M462.24 343.19V349.23M463.43 343.45V349.41M465.82 340.39V349.66M468.21 344.39V349.15M470.60 345.02V353.26M474.19 346.15V349.59M476.58 341.65V346.88M477.77 345.66V348.14M478.97 343.45V351.86M481.36 343.55V352.91M483.75 346.63V351.03M486.14 343.64V347.90M487.33 345.28V349.04M490.92 341.13V349.32M496.89 338.98V353.66M499.28 342.31V346.84M501.67 337.20V342.74M502.87 337.03V347.47M506.45 340.46V345.33M508.84 340.50V345.07M510.04 341.45V344.63M511.23 340.36V344.49M516.01 340.67V345.00M519.60 338.43V343.57M521.99 335.90V341.88M524.38 338.50V343.13M526.77 337.95V343.71M527.96 340.86V349.54M530.35 337.63V344.42M533.94 341.89V345.97M536.33 341.62V345.39M537.52 343.78V349.02M539.91 343.57V346.94M541.11 343.75V347.17M543.50 340.37V350.23M545.88 343.92V349.89M548.27 342.51V350.20M550.67 342.23V353.38M556.64 337.19V351.70M557.84 346.39V350.55M561.42 336.76V349.44M563.81 326.96V337.15M568.59 301.85V315.52M570.98 303.50V308.41M573.37 292.21V306.37M575.76 280.89V298.14M576.96 291.55V303.01M579.35 294.00V311.50M580.54 306.57V320.74M582.93 313.55V322.26M584.12 312.46V319.70M585.32 313.19V331.02M587.71 320.24V326.35M588.91 323.51V337.65M591.30 325.03V328.99M592.49 323.15V334.10M597.27 321.12V329.79M600.86 315.12V323.64M603.25 317.25V326.22M604.44 314.36V325.57M605.63 316.17V327.16M608.02 313.16V333.71M611.61 322.08V343.86M616.39 324.56V331.44M617.59 326.70V332.81M619.98 318.47V329.99M622.37 317.43V320.28M624.75 316.99V329.09M627.14 320.60V332.02M629.54 323.47V331.82M631.93 325.58V334.71M634.32 325.83V329.16M636.71 325.80V334.37M637.90 329.36V332.83M640.29 324.98V331.82M645.07 322.42V327.83M646.26 319.67V325.68M647.46 325.49V328.81M651.05 320.74V330.34M653.44 323.30V331.31M657.02 322.38V333.12M22.00 274.00V303.00M35.00 270.00V290.00M398.80 355.00V371.50M550.70 343.00V355.50M250.50 286.00V300.00M266.50 289.00V302.00M166.80 316.50V350.00M171.00 318.00V352.00M58.00 338.00V357.00M82.60 343.00V360.00M117.60 348.00V366.50" stroke="#ef5350" stroke-width=".8" stroke-opacity=".62" fill="none"/>
<path d="M16.50 287.29V286.59M17.70 286.46V282.75M18.89 283.12V280.16M21.28 285.66V283.90M26.06 295.11V291.96M29.65 297.36V286.50M30.84 285.95V279.77M33.23 290.54V287.50M34.42 287.16V276.87M38.01 295.64V293.66M41.59 324.69V319.68M45.18 335.36V333.02M46.38 332.49V328.91M48.77 337.71V336.52M52.35 346.00V342.65M57.13 348.69V344.52M58.33 344.40V343.70M59.52 344.03V343.05M61.91 344.65V342.19M65.50 346.34V344.33M67.89 345.53V344.74M69.08 344.36V343.34M70.28 343.59V340.47M72.67 348.00V339.50M76.25 345.40V344.70M79.84 350.22V349.35M81.03 349.96V345.26M83.42 349.96V347.32M85.81 349.56V346.31M88.20 348.16V344.36M91.79 351.90V346.94M92.98 346.70V346.00M95.37 350.84V350.14M97.76 350.56V347.73M98.95 348.09V347.06M101.34 348.05V347.04M103.73 354.27V353.57M104.93 352.85V352.15M107.32 354.21V353.01M112.10 356.43V355.73M114.49 356.08V353.07M116.88 355.27V351.81M119.27 354.57V351.34M120.47 350.80V349.42M124.05 352.47V350.31M125.25 350.64V348.86M126.44 349.61V348.35M127.64 348.15V347.45M128.83 347.51V346.81M130.03 347.59V346.89M131.22 346.97V345.87M134.81 349.70V346.36M136.00 345.24V344.54M139.59 349.78V345.29M141.98 349.36V344.17M145.56 351.03V348.27M149.15 348.84V346.21M151.53 351.48V346.04M155.12 350.18V349.48M156.31 349.11V346.55M159.90 349.32V348.19M161.09 348.18V346.64M162.29 347.08V346.38M163.49 347.15V344.59M164.68 344.73V342.43M165.88 342.73V332.07M167.07 331.31V328.64M168.27 328.84V320.68M171.85 332.55V329.76M174.24 329.59V324.67M177.83 338.39V335.46M181.41 338.07V330.39M185.00 336.75V336.05M186.19 335.47V334.20M188.58 335.28V334.50M192.17 339.03V334.94M194.56 339.09V335.67M198.14 339.65V334.92M199.34 335.21V333.70M201.73 334.58V328.94M202.92 328.54V325.93M204.12 325.76V324.43M205.31 323.79V319.62M206.51 318.42V309.86M208.90 311.00V310.30M210.09 310.21V306.02M211.28 305.97V303.75M217.26 312.20V306.56M218.46 306.86V306.16M219.65 305.69V304.77M223.24 305.23V304.32M225.62 311.01V308.70M226.82 308.60V304.03M228.02 304.18V303.48M229.21 303.44V302.51M230.41 303.14V302.44M231.60 301.90V297.62M235.19 306.62V303.71M236.38 303.24V300.56M239.97 305.91V300.90M241.16 301.37V300.67M243.55 301.85V300.99M244.75 301.08V298.22M247.14 301.47V291.07M249.53 300.31V293.19M250.72 294.32V290.94M254.31 302.27V297.36M259.09 311.82V303.23M260.28 303.99V299.87M262.67 303.48V297.01M263.87 296.94V293.22M267.45 294.54V293.84M273.43 323.68V315.36M277.01 322.20V320.76M278.21 321.04V319.85M279.40 319.70V317.26M281.79 326.97V326.27M284.18 334.66V330.20M286.57 330.27V326.65M288.96 328.64V327.45M291.35 337.43V331.07M293.74 332.16V326.17M297.32 333.70V332.68M299.72 336.41V333.54M303.30 336.57V334.21M304.50 334.47V333.77M305.69 334.66V329.82M308.08 343.54V331.40M311.67 339.14V335.88M312.86 335.23V334.53M315.25 344.50V340.84M318.84 343.34V342.05M321.23 344.73V341.15M323.62 350.31V340.29M324.81 340.29V334.77M327.20 338.60V332.95M330.79 345.52V335.55M334.37 343.60V341.61M339.15 343.40V339.94M342.74 346.73V344.53M346.32 348.27V346.61M349.91 355.43V354.73M352.30 361.03V351.56M354.69 362.85V355.83M355.88 356.02V352.83M358.27 361.95V352.97M359.47 352.65V350.74M361.86 353.58V347.62M365.44 350.80V350.10M366.63 349.95V348.15M367.83 348.49V347.79M369.03 348.00V346.09M370.22 345.94V344.34M371.42 343.74V343.04M372.61 343.42V341.27M375.00 342.18V337.45M377.39 341.17V332.85M380.98 339.81V326.61M382.17 326.15V325.33M391.73 355.33V353.84M394.12 357.58V349.25M397.71 360.00V357.76M401.29 366.67V363.64M402.49 364.00V353.73M404.88 360.69V354.31M407.27 355.40V352.87M409.66 356.73V351.17M413.24 358.65V357.95M414.44 357.75V356.34M416.83 361.65V360.62M418.02 361.06V353.40M424.00 362.61V361.91M426.39 363.29V361.02M428.78 366.12V364.29M433.56 373.95V368.04M434.75 369.46V358.40M438.34 383.17V374.34M439.53 374.87V355.37M443.12 360.05V346.99M444.31 346.84V344.37M447.90 347.32V339.23M449.09 340.00V339.30M452.68 343.97V343.08M453.87 343.40V342.44M455.06 342.44V341.74M459.85 345.80V344.00M464.62 345.73V344.85M467.02 347.69V345.21M469.41 347.64V345.77M471.80 351.21V348.47M472.99 348.82V346.93M475.38 347.94V344.22M480.16 348.91V345.11M482.55 348.52V347.69M484.94 349.20V345.14M488.53 347.60V345.01M489.72 345.08V343.33M492.11 345.32V343.84M493.31 344.17V343.47M494.50 343.32V342.57M495.70 342.71V340.86M498.09 348.86V344.15M500.48 346.88V342.46M504.06 344.68V342.82M505.26 342.72V341.88M507.65 343.89V341.56M512.42 344.89V344.19M513.62 344.55V342.33M514.82 342.52V340.63M517.21 341.93V341.23M518.40 340.95V339.90M520.79 342.18V338.33M523.18 340.10V339.40M525.57 342.49V340.39M529.15 344.35V340.78M531.55 344.41V342.86M532.74 343.53V342.83M535.13 345.10V342.16M538.72 345.49V343.92M542.30 346.97V342.32M544.69 347.24V346.54M547.08 348.67V342.89M549.47 347.85V344.57M551.86 349.93V347.03M553.06 346.80V345.31M554.25 344.85V344.15M555.45 344.35V340.20M559.03 348.83V345.82M560.23 345.40V340.85M562.62 346.20V327.35M565.00 333.08V312.46M566.20 313.24V312.08M567.39 311.79V308.94M569.79 311.59V306.54M572.18 306.85V300.79M574.57 305.36V290.37M578.15 303.38V297.87M581.74 319.07V314.20M586.51 331.87V324.68M590.10 331.66V326.30M593.69 328.66V327.41M594.88 328.43V327.32M596.08 326.67V322.80M598.47 328.41V327.11M599.66 326.76V317.56M602.05 322.13V319.43M606.83 324.68V323.49M609.22 332.56V328.58M610.42 328.72V323.27M612.81 342.50V341.71M614.00 341.78V339.35M615.20 338.63V326.81M618.78 329.05V322.33M621.17 324.22V318.44M623.56 318.93V318.23M625.95 326.58V322.80M628.34 328.23V324.10M630.73 328.92V326.61M633.12 333.38V327.52M635.51 328.40V327.69M639.10 332.11V325.51M641.49 331.46V329.52M642.68 329.23V326.24M643.88 326.82V324.24M648.66 330.17V327.59M649.85 327.49V326.32M652.24 328.01V327.31M654.63 328.57V327.61M655.83 328.24V324.38" stroke="#26a69a" stroke-width="1" stroke-opacity=".85" fill="none"/>
<path d="M20.09 279.67V286.42M22.48 283.74V291.97M23.67 292.09V294.15M24.87 293.14V294.56M27.26 291.81V296.80M28.45 296.69V297.39M32.03 278.56V291.53M35.62 277.05V279.31M36.81 279.78V294.82M39.20 293.56V304.25M40.40 303.29V324.50M42.79 320.16V326.60M43.98 326.87V335.66M47.57 328.69V337.29M49.96 336.50V339.39M51.16 339.48V346.41M53.55 341.87V345.65M54.74 344.50V345.54M55.94 345.30V348.19M60.72 343.54V344.24M63.11 341.95V344.61M64.30 344.24V346.40M66.69 344.70V345.96M71.47 340.51V347.51M73.86 338.55V344.47M75.06 344.91V345.61M77.44 344.26V349.44M78.64 349.05V349.85M82.23 346.26V349.69M84.62 348.10V349.61M87.01 346.43V347.90M89.40 344.45V347.92M90.59 347.77V351.50M94.17 346.44V350.69M96.56 349.66V350.36M100.15 346.89V347.59M102.54 346.51V353.63M106.12 352.56V354.36M108.52 352.80V354.25M109.71 354.91V356.47M110.91 356.27V357.03M113.30 354.57V356.44M115.69 353.76V354.89M118.08 352.11V354.86M121.66 349.24V351.18M122.86 350.88V352.10M132.42 345.30V349.32M133.61 348.92V349.62M137.19 344.89V347.51M138.39 346.68V349.30M140.78 345.81V349.73M143.17 344.40V345.27M144.37 345.14V350.30M146.75 348.15V349.72M147.95 348.88V349.58M150.34 346.03V351.47M152.73 345.91V346.86M153.93 347.80V350.29M157.51 346.84V348.44M158.71 347.82V348.83M169.46 321.04V327.20M170.66 326.21V332.77M173.05 329.37V330.07M175.44 324.17V333.30M176.63 333.87V338.82M179.02 335.29V337.50M180.22 337.65V338.35M182.61 330.14V334.72M183.80 334.37V337.83M187.39 334.35V335.87M189.78 335.02V335.72M190.97 336.69V338.59M193.36 334.95V339.01M195.75 335.84V336.54M196.95 337.05V339.49M200.53 333.92V334.90M207.70 309.90V310.76M212.48 303.68V306.58M213.68 306.91V309.69M214.87 309.56V310.44M216.06 309.89V312.02M220.84 304.67V305.50M222.04 305.29V306.03M224.43 303.83V310.79M232.80 297.81V301.19M233.99 301.38V306.34M237.58 301.12V302.69M238.77 302.11V306.05M242.36 300.15V301.40M245.94 297.88V302.22M248.33 290.72V300.81M251.92 290.53V294.08M253.11 294.29V301.59M255.50 297.62V306.49M256.70 307.19V308.74M257.89 308.61V311.30M261.48 299.28V303.55M265.06 292.67V293.67M266.25 293.65V294.35M268.64 294.08V307.07M269.84 307.26V308.05M271.04 307.52V313.68M272.23 313.95V323.73M274.62 315.45V320.80M275.81 320.49V322.82M280.60 316.75V326.41M282.99 325.25V334.94M285.38 329.14V329.84M287.76 326.39V328.01M290.16 327.08V337.17M292.55 331.25V332.30M294.94 326.12V331.04M296.13 331.20V333.75M298.52 333.53V337.05M300.91 333.23V335.53M302.11 335.42V336.41M306.88 329.19V342.57M309.28 331.50V336.87M310.47 336.23V338.93M314.06 334.32V344.34M316.44 340.67V341.94M317.64 340.46V343.56M320.03 342.59V344.41M322.42 341.01V348.98M326.00 336.05V338.80M328.40 333.20V335.84M329.59 335.13V344.58M331.98 335.24V337.19M333.18 336.73V343.31M335.56 341.46V342.24M336.76 342.06V342.76M337.96 342.88V343.58M340.35 339.66V346.05M341.54 345.71V346.41M343.93 344.59V346.54M345.12 346.26V348.31M347.52 346.70V349.64M348.71 349.91V355.40M351.10 354.15V361.55M353.49 351.94V362.95M357.08 352.74V360.92M360.66 350.10V353.40M363.05 348.53V350.14M364.25 349.88V350.66M373.81 341.33V342.14M376.19 337.13V339.82M378.59 332.40V337.72M379.78 338.10V340.05M383.37 324.70V329.62M384.56 329.21V334.44M385.75 334.02V336.74M386.95 336.27V341.49M388.15 342.26V346.59M389.34 346.99V354.30M390.54 354.74V355.44M392.93 354.40V357.85M395.31 349.36V356.71M396.51 356.62V359.84M398.90 357.50V358.20M400.10 358.12V366.21M403.68 354.37V359.97M406.07 353.82V355.58M408.46 353.50V356.77M410.85 351.27V356.71M412.05 356.55V359.23M415.63 356.87V361.64M419.22 353.37V359.16M420.41 359.27V359.97M421.61 359.93V361.32M422.80 360.81V362.07M425.19 362.43V363.57M427.58 361.04V366.28M429.97 363.60V364.62M431.17 364.78V367.24M432.36 367.91V373.85M435.95 358.44V371.89M437.14 371.93V383.96M440.73 355.89V356.59M441.92 356.94V360.67M445.50 344.36V345.06M446.70 344.82V346.97M450.29 339.77V340.73M451.48 340.57V343.84M456.26 342.18V343.82M457.46 343.34V345.38M458.65 345.73V346.43M461.04 344.06V344.76M462.24 345.24V346.55M463.43 346.39V347.09M465.82 344.70V346.74M468.21 345.49V347.15M470.60 345.91V351.27M474.19 346.67V348.11M476.58 345.13V345.83M477.77 345.66V346.59M478.97 347.68V349.00M481.36 344.89V347.44M483.75 348.35V349.75M486.14 345.09V346.38M487.33 346.77V347.74M490.92 343.36V345.26M496.89 341.52V348.66M499.28 343.30V346.72M501.67 341.57V342.71M502.87 342.27V344.56M506.45 342.02V344.69M508.84 341.48V342.50M510.04 342.44V344.03M511.23 343.58V344.28M516.01 341.04V341.74M519.60 340.12V341.27M521.99 337.76V340.18M524.38 338.99V342.44M526.77 340.66V342.61M527.96 342.61V344.17M530.35 340.09V344.40M533.94 342.37V345.26M536.33 342.17V344.56M537.52 344.03V345.62M539.91 343.91V345.44M541.11 344.74V346.63M543.50 341.35V347.30M545.88 347.35V348.05M548.27 342.77V347.53M550.67 344.23V350.85M556.64 339.45V347.87M557.84 346.54V348.13M561.42 340.43V345.91M563.81 327.22V332.32M568.59 308.91V312.14M570.98 305.87V307.03M573.37 300.41V304.96M575.76 289.53V293.16M576.96 293.21V302.89M579.35 297.44V308.91M580.54 309.53V319.32M582.93 313.95V314.65M584.12 314.31V315.91M585.32 315.84V331.00M587.71 324.37V325.76M588.91 325.21V331.47M591.30 326.14V327.05M592.49 327.13V328.66M597.27 323.42V329.42M600.86 317.61V322.07M603.25 318.38V319.08M604.44 318.97V320.93M605.63 320.36V324.44M608.02 324.10V331.64M611.61 323.92V342.65M616.39 327.07V327.77M617.59 328.55V329.25M619.98 322.01V323.40M622.37 318.31V319.01M624.75 317.75V327.26M627.14 324.00V328.51M629.54 324.04V329.58M631.93 327.24V333.33M634.32 326.54V327.99M636.71 327.03V329.39M637.90 329.69V332.03M640.29 325.13V331.59M645.07 323.73V324.48M646.26 323.94V325.43M647.46 326.19V328.71M651.05 325.97V327.63M653.44 327.42V328.12M657.02 324.10V329.80" stroke="#ef5350" stroke-width="1" stroke-opacity=".85" fill="none"/>
<path d="M16.90 237.43C17.42 236.41 18.98 233.17 20.00 231.35C21.02 229.53 21.83 228.23 23.00 226.51C24.17 224.79 25.67 222.59 27.00 221.05C28.33 219.50 29.83 217.67 31.00 217.24C32.17 216.81 32.98 217.75 34.00 218.47C35.02 219.20 35.70 219.68 37.10 221.56C38.50 223.45 40.48 226.41 42.40 229.80C44.32 233.20 46.68 237.82 48.60 241.96C50.52 246.10 52.15 250.39 53.90 254.63C55.65 258.87 57.35 264.02 59.10 267.40C60.85 270.78 62.58 273.03 64.40 274.92C66.22 276.81 67.63 277.65 70.00 278.73C72.37 279.81 75.27 280.72 78.60 281.41C81.93 282.09 86.82 282.45 90.00 282.85C93.18 283.24 94.37 283.18 97.70 283.78C101.03 284.38 106.62 285.70 110.00 286.45C113.38 287.21 115.60 287.91 118.00 288.31C120.40 288.70 121.73 289.01 124.40 288.82C127.07 288.63 130.82 287.69 134.00 287.18C137.18 286.66 140.00 286.04 143.50 285.73C147.00 285.42 151.50 285.46 155.00 285.32C158.50 285.18 162.00 285.41 164.50 284.91C167.00 284.41 167.78 283.50 170.00 282.33C172.22 281.17 174.75 279.19 177.80 277.91C180.85 276.62 184.50 275.47 188.30 274.61C192.10 273.75 197.52 274.27 200.60 272.76C203.68 271.24 204.73 268.41 206.80 265.55C208.87 262.68 210.80 258.73 213.00 255.55C215.20 252.38 217.67 248.76 220.00 246.49C222.33 244.22 224.35 242.94 227.00 241.96C229.65 240.98 232.67 241.15 235.90 240.62C239.13 240.09 243.33 239.45 246.40 238.77C249.47 238.08 251.95 236.83 254.30 236.50C256.65 236.17 258.43 236.96 260.50 236.81C262.57 236.65 264.78 235.26 266.70 235.57C268.62 235.88 270.10 236.71 272.00 238.66C273.90 240.62 275.90 244.34 278.10 247.31C280.30 250.28 282.85 253.75 285.20 256.48C287.55 259.21 289.87 261.89 292.20 263.69C294.53 265.49 297.00 266.64 299.20 267.30C301.40 267.95 303.20 267.00 305.40 267.61C307.60 268.21 309.62 269.60 312.40 270.90C315.18 272.21 319.17 274.21 322.10 275.43C325.03 276.65 327.68 277.67 330.00 278.21C332.32 278.76 332.95 278.47 336.00 278.73C339.05 278.99 344.78 278.47 348.30 279.76C351.82 281.05 354.48 284.94 357.10 286.45C359.72 287.97 361.93 288.36 364.00 288.82C366.07 289.29 367.12 289.92 369.50 289.24C371.88 288.55 375.08 286.45 378.30 284.70C381.52 282.95 385.87 279.24 388.80 278.73C391.73 278.21 393.25 280.17 395.90 281.61C398.55 283.06 402.07 285.36 404.70 287.38C407.33 289.41 408.77 292.55 411.70 293.77C414.63 294.99 418.92 294.09 422.30 294.69C425.68 295.30 429.37 296.22 432.00 297.37C434.63 298.52 436.20 300.89 438.10 301.60C440.00 302.30 441.35 302.21 443.40 301.60C445.45 300.98 448.05 299.66 450.40 297.89C452.75 296.12 455.15 293.27 457.50 290.99C459.85 288.70 462.15 285.54 464.50 284.19C466.85 282.83 468.67 282.92 471.60 282.85C474.53 282.78 478.03 283.72 482.10 283.78C486.17 283.83 491.48 283.93 496.00 283.16C500.52 282.39 504.37 279.85 509.20 279.14C514.03 278.44 520.17 278.83 525.00 278.94C529.83 279.04 533.57 279.21 538.20 279.76C542.83 280.31 548.83 281.91 552.80 282.23C556.77 282.56 559.37 283.18 562.00 281.72C564.63 280.26 566.40 276.89 568.60 273.48C570.80 270.06 573.00 265.29 575.20 261.22C577.40 257.15 579.90 251.78 581.80 249.07C583.70 246.35 584.62 244.81 586.60 244.95C588.58 245.08 591.20 247.76 593.70 249.89C596.20 252.02 598.52 255.73 601.60 257.72C604.68 259.71 608.68 260.70 612.20 261.84C615.72 262.97 618.75 263.93 622.70 264.52C626.65 265.10 631.93 265.43 635.90 265.34C639.87 265.25 643.07 264.00 646.50 264.00C649.93 264.00 654.83 265.12 656.50 265.34" stroke="#2648c2" stroke-width="1.15" fill="none"/>
<path d="M16.90 366.37C17.42 365.42 18.98 362.36 20.00 360.65C21.02 358.94 21.83 357.71 23.00 356.09C24.17 354.47 25.67 352.41 27.00 350.95C28.33 349.50 29.83 347.77 31.00 347.36C32.17 346.96 32.98 347.85 34.00 348.53C35.02 349.20 35.70 349.66 37.10 351.44C38.50 353.21 40.48 355.99 42.40 359.20C44.32 362.40 46.68 366.75 48.60 370.64C50.52 374.54 52.15 378.58 53.90 382.57C55.65 386.57 57.35 391.42 59.10 394.60C60.85 397.79 62.58 399.90 64.40 401.68C66.22 403.46 67.63 404.25 70.00 405.27C72.37 406.29 75.27 407.15 78.60 407.79C81.93 408.44 86.82 408.78 90.00 409.15C93.18 409.52 94.37 409.46 97.70 410.02C101.03 410.59 106.62 411.83 110.00 412.55C113.38 413.26 115.60 413.92 118.00 414.29C120.40 414.66 121.73 414.95 124.40 414.78C127.07 414.60 130.82 413.71 134.00 413.22C137.18 412.74 140.00 412.16 143.50 411.87C147.00 411.58 151.50 411.61 155.00 411.48C158.50 411.35 162.00 411.56 164.50 411.09C167.00 410.62 167.78 409.76 170.00 408.67C172.22 407.57 174.75 405.71 177.80 404.49C180.85 403.28 184.50 402.20 188.30 401.39C192.10 400.58 197.52 401.07 200.60 399.64C203.68 398.22 204.73 395.55 206.80 392.85C208.87 390.15 210.80 386.44 213.00 383.45C215.20 380.45 217.67 377.04 220.00 374.91C222.33 372.78 224.35 371.56 227.00 370.64C229.65 369.72 232.67 369.88 235.90 369.38C239.13 368.88 243.33 368.28 246.40 367.63C249.47 366.99 251.95 365.81 254.30 365.50C256.65 365.19 258.43 365.94 260.50 365.79C262.57 365.65 264.78 364.34 266.70 364.63C268.62 364.92 270.10 365.69 272.00 367.54C273.90 369.38 275.90 372.89 278.10 375.69C280.30 378.48 282.85 381.75 285.20 384.32C287.55 386.89 289.87 389.41 292.20 391.11C294.53 392.81 297.00 393.89 299.20 394.50C301.40 395.12 303.20 394.23 305.40 394.79C307.60 395.36 309.62 396.67 312.40 397.90C315.18 399.13 319.17 401.02 322.10 402.17C325.03 403.31 327.68 404.27 330.00 404.79C332.32 405.30 332.95 405.03 336.00 405.27C339.05 405.51 344.78 405.03 348.30 406.24C351.82 407.45 354.48 411.12 357.10 412.55C359.72 413.97 361.93 414.34 364.00 414.78C366.07 415.21 367.12 415.81 369.50 415.16C371.88 414.52 375.08 412.55 378.30 410.90C381.52 409.25 385.87 405.76 388.80 405.27C391.73 404.79 393.25 406.63 395.90 407.99C398.55 409.34 402.07 411.51 404.70 413.42C407.33 415.33 408.77 418.28 411.70 419.43C414.63 420.58 418.92 419.74 422.30 420.31C425.68 420.87 429.37 421.74 432.00 422.83C434.63 423.91 436.20 426.14 438.10 426.80C440.00 427.47 441.35 427.39 443.40 426.80C445.45 426.22 448.05 424.98 450.40 423.31C452.75 421.65 455.15 418.96 457.50 416.81C459.85 414.66 462.15 411.69 464.50 410.41C466.85 409.13 468.67 409.22 471.60 409.15C474.53 409.09 478.03 409.98 482.10 410.02C486.17 410.07 491.48 410.17 496.00 409.44C500.52 408.71 504.37 406.32 509.20 405.66C514.03 405.00 520.17 405.37 525.00 405.46C529.83 405.56 533.57 405.72 538.20 406.24C542.83 406.76 548.83 408.26 552.80 408.57C556.77 408.88 559.37 409.46 562.00 408.08C564.63 406.71 566.40 403.54 568.60 400.32C570.80 397.11 573.00 392.61 575.20 388.78C577.40 384.95 579.90 379.89 581.80 377.33C583.70 374.78 584.62 373.33 586.60 373.45C588.58 373.58 591.20 376.11 593.70 378.11C596.20 380.12 598.52 383.61 601.60 385.48C604.68 387.36 608.68 388.30 612.20 389.36C615.72 390.43 618.75 391.33 622.70 391.88C626.65 392.43 631.93 392.74 635.90 392.66C639.87 392.58 643.07 391.40 646.50 391.40C649.93 391.40 654.83 392.45 656.50 392.66" stroke="#2648c2" stroke-width="1.15" fill="none"/>
<path d="M17.4 199.09H726.5" stroke="#9b9ea8" stroke-width="3" stroke-dasharray="3 4.83" fill="none"/>
<path d="M17.4 255.51H726.5" stroke="#64b5f6" stroke-width="3" stroke-dasharray="3 4.83" fill="none"/>
<path d="M17.4 299.81H726.5" stroke="#1fa898" stroke-width="3" stroke-dasharray="3 4.83" fill="none"/>
<path d="M17.4 362.02H726.5" stroke="#81c784" stroke-width="3" stroke-dasharray="3 4.83" fill="none"/>
<path d="M17.4 400.52H726.5" stroke="#f0483a" stroke-width="3" stroke-dasharray="3 4.83" fill="none"/>
<path d="M17.4 462.74H726.5" stroke="#9b9ea8" stroke-width="3" stroke-dasharray="3 4.83" fill="none"/>
<path d="M656.5 328.2L662.9 337L669.5 327.7L681.6 339.6L685.6 332.4L697.5 345.4M698 332.4V345.4H684" stroke="#0cf00c" stroke-width="2" fill="none" stroke-linejoin="round" stroke-linecap="round"/>
<text x="735.00" y="195.40" font-size="8.70" fill="#70737d" text-anchor="start" font-weight="normal" textLength="41.00" lengthAdjust="spacingAndGlyphs" >1(20500.00)</text>
<text x="735.00" y="251.81" font-size="8.70" fill="#64b5f6" text-anchor="start" font-weight="normal" textLength="56.50" lengthAdjust="spacingAndGlyphs" >0.786(19986.40)</text>
<text x="735.00" y="296.11" font-size="8.70" fill="#1fa898" text-anchor="start" font-weight="normal" textLength="56.50" lengthAdjust="spacingAndGlyphs" >0.618(19583.20)</text>
<text x="735.00" y="358.32" font-size="8.70" fill="#81c784" text-anchor="start" font-weight="normal" textLength="56.50" lengthAdjust="spacingAndGlyphs" >0.382(19016.80)</text>
<text x="735.00" y="396.82" font-size="8.70" fill="#f0483a" text-anchor="start" font-weight="normal" textLength="56.50" lengthAdjust="spacingAndGlyphs" >0.236(18666.40)</text>
<text x="735.00" y="459.04" font-size="8.70" fill="#70737d" text-anchor="start" font-weight="normal" textLength="42.00" lengthAdjust="spacingAndGlyphs" >0(18100.00)</text>
<text x="904.00" y="253.00" font-size="14.00" fill="#f0483a" text-anchor="end" font-weight="bold" textLength="27.20" lengthAdjust="spacingAndGlyphs" >(R1)</text>
<text x="902.50" y="324.30" font-size="14.00" fill="#f0483a" text-anchor="end" font-weight="bold" textLength="19.00" lengthAdjust="spacingAndGlyphs" >(P)</text>
<clipPath id="cps1"><rect x="870" y="358.5" width="40" height="20"/></clipPath>
<g clip-path="url(#cps1)">
<text x="904.50" y="369.70" font-size="14.00" fill="#f0483a" text-anchor="end" font-weight="bold" textLength="25.00" lengthAdjust="spacingAndGlyphs" >(S1)</text>
</g>
<circle cx="872.7" cy="379" r="16.2" fill="#1e222d" fill-opacity=".88"/>
<path d="M869 374.2L878 378.9L869 383.6Z" fill="#2962ff" stroke="#2962ff" stroke-width="1" stroke-linejoin="round"/>
</g>
<g clip-path="url(#cpi)">
<rect x="16.5" y="560.5" width="888" height="77.0" fill="#7e57c2" fill-opacity=".12"/>
<path d="M16.5 561.5H904.5" stroke="#646771" stroke-width="1" stroke-dasharray="3.7 3.44" fill="none"/>
<path d="M16.5 599.5H904.5" stroke="#646771" stroke-width="1" stroke-dasharray="3.7 3.44" fill="none"/>
<path d="M16.5 637.5H904.5" stroke="#646771" stroke-width="1" stroke-dasharray="3.7 3.44" fill="none"/>
<path d="M17.10 579.50L18.46 578.01L19.67 574.00L21.50 581.33L22.96 601.97L24.07 618.00L25.68 630.65L27.00 638.90L28.18 631.94L29.93 625.33L31.48 623.36L32.50 619.83L34.02 610.49L35.07 605.17L36.51 611.18L38.00 619.83L39.86 622.05L41.67 623.50L43.21 623.86L45.33 627.17L46.67 628.41L48.27 625.33L49.71 629.06L50.83 636.33L52.67 647.33L54.31 639.95L55.60 636.33L57.87 624.31L60.00 616.17L61.90 627.26L64.40 634.50L65.69 624.77L67.33 618.00L69.46 614.44L71.00 607.00L72.34 607.93L73.93 604.07L75.24 608.29L76.50 610.67L78.16 623.04L80.17 630.83L81.56 630.51L82.73 625.33L84.44 615.12L85.67 607.00L87.42 602.51L89.33 601.50L90.59 594.66L92.27 592.33L93.43 596.54L94.83 599.67L95.82 598.76L97.40 596.00L98.77 592.26L100.33 590.50L101.99 600.48L103.27 610.67L104.44 616.07L105.83 621.67L107.24 615.70L108.40 614.33L110.15 616.99L111.33 624.60L112.95 622.18L114.27 616.17L115.26 611.25L116.83 603.33L118.59 589.99L120.50 575.83L122.04 572.19L124.17 573.27L125.26 576.92L126.73 575.83L128.02 568.91L129.67 559.33L131.39 555.22L132.60 546.50L133.79 554.91L135.17 564.83L137.00 575.83L138.85 576.35L140.67 574.00L141.90 580.79L143.60 585.00L145.06 592.37L146.17 596.00L147.17 603.82L148.73 607.00L149.95 602.51L151.67 599.67L153.20 602.21L154.60 600.40L155.79 601.32L157.17 597.83L159.03 595.94L160.83 596.00L162.01 590.66L163.40 588.67L164.61 578.59L166.33 572.17L167.91 572.00L169.27 566.67L170.16 569.82L171.47 577.67L172.86 574.54L173.67 571.07L175.08 574.83L176.60 581.33L177.94 585.78L179.17 586.83L180.42 591.01L181.73 596.00L182.93 608.25L184.67 616.17L185.49 611.92L186.87 607.73L188.54 611.86L189.80 619.83L191.41 613.92L192.73 603.33L194.28 594.75L195.67 583.17L196.71 583.74L198.23 585.00L199.49 577.63L201.17 566.67L202.33 561.29L203.73 556.40L205.13 567.03L205.93 574.00L207.50 568.26L208.50 563.00L209.78 575.19L211.07 585.00L212.52 577.50L214.00 572.17L215.41 571.25L216.93 574.00L218.14 583.87L219.50 588.67L221.33 599.67L222.71 593.91L223.53 586.83L224.82 593.33L226.10 601.50L227.14 592.98L228.67 586.83L230.12 597.91L231.23 605.17L232.43 599.32L233.80 590.50L235.43 581.06L236.73 569.60L237.93 576.82L238.93 581.33L240.13 588.81L241.50 594.17L242.65 586.76L244.07 579.50L245.33 585.08L246.27 588.67L247.43 585.85L248.83 578.40L250.21 583.04L251.40 586.83L252.57 591.66L254.33 596.00L255.65 599.64L257.27 601.50L258.53 604.06L259.83 603.33L261.21 598.46L262.40 590.50L263.78 589.42L265.33 586.83L266.94 597.71L268.27 605.17L269.46 614.28L270.83 619.83L272.34 613.48L273.40 605.17L275.15 610.29L276.33 610.67L278.54 620.35L280.73 629.73L282.00 626.53L283.67 619.83L285.40 613.30L286.60 607.00L288.00 600.81L289.17 592.33L290.59 594.29L291.73 599.67L293.37 591.84L294.67 583.17L296.50 573.27L297.88 580.55L299.07 588.67L300.24 595.60L301.27 599.67L302.63 596.23L303.83 590.50L304.83 598.82L306.40 610.67L308.23 622.40L309.30 613.65L310.43 603.33L311.55 602.47L313.00 599.67L314.36 594.53L315.57 594.17L316.83 600.99L318.13 610.67L318.97 605.09L320.33 603.33L321.69 605.71L323.27 611.40L324.37 604.95L325.83 603.33L327.10 608.21L328.40 614.33L329.93 608.39L331.33 601.50L332.28 610.93L333.53 616.17L334.70 606.51L336.47 597.83L337.43 600.12L338.67 603.33L339.72 599.56L341.23 592.33L342.26 595.42L343.43 603.33L344.78 610.03L346.00 620.93L338.93 599.67L340.24 597.00L341.50 596.00L342.83 601.13L344.07 601.50L345.72 607.50L347.00 614.33L348.47 610.49L349.57 605.17L350.95 616.14L352.50 630.83L353.84 628.42L355.07 625.33L356.44 630.52L357.27 630.83L358.62 619.98L359.83 610.67L361.90 608.99L363.50 612.50L364.55 611.01L366.07 608.83L367.24 598.71L368.27 592.33L369.63 598.03L370.83 599.67L372.23 594.73L373.77 590.50L374.89 593.63L376.33 598.93L378.08 592.26L379.27 586.83L380.83 586.23L381.83 581.33L383.17 579.72L384.40 580.60L386.16 584.61L387.33 588.67L388.75 595.06L390.27 603.33L391.84 611.54L392.83 619.83L393.99 615.13L395.40 610.67L396.64 615.88L398.33 619.83L399.77 625.17L401.27 632.67L402.72 633.45L403.83 630.83L405.37 622.75L407.50 614.33L408.65 610.18L410.07 601.50L411.70 603.84L413.00 608.83L414.14 599.70L415.57 594.17L417.14 603.17L418.13 614.33L419.66 603.20L421.07 592.33L422.62 588.84L424.00 584.27L425.61 591.81L426.93 603.33L428.37 613.30L429.50 625.33L430.80 619.90L432.07 616.17L433.41 620.91L435.00 625.33L436.45 613.61L437.93 603.33L439.36 600.14L440.50 596.00L441.51 587.38L443.07 581.33L444.14 579.47L445.27 573.27L446.78 576.07L447.83 578.40L448.83 575.81L450.40 570.33L451.46 567.61L452.60 564.10L454.01 566.07L455.17 566.67L457.00 581.33L458.09 579.81L459.20 574.00L460.60 578.94L462.13 585.00L463.44 579.75L464.33 577.67L465.68 585.25L467.27 589.40L468.29 598.12L469.83 603.33L471.67 621.67L473.25 612.15L474.60 603.33L475.76 613.96L477.17 621.67L479.00 629.00L480.71 617.98L481.93 610.67L483.20 605.06L484.50 598.93L486.33 607.00L487.80 603.37L489.27 601.50L490.34 599.20L491.83 596.00L493.30 586.42L494.40 581.33L495.87 575.83L496.80 581.16L498.07 583.17L499.71 586.40L501.00 587.93L502.18 587.26L503.93 584.27L505.50 593.64L506.50 597.83L507.90 593.65L509.07 594.17L510.74 595.46L512.00 599.67L513.55 603.85L514.93 603.33L516.34 608.77L517.50 618.00L518.66 610.09L520.07 597.83L521.32 595.66L523.00 592.33L524.42 595.15L525.93 601.50L527.29 594.18L528.50 591.60L529.55 595.01L531.07 599.67L532.28 593.70L534.00 592.33L535.51 600.93L536.93 607.00L538.44 610.60L539.50 618.00L540.74 610.62L542.07 605.17L543.59 606.03L545.00 607.00L546.73 615.51L547.93 625.33L548.95 615.36L550.50 603.33L551.57 600.35L553.07 596.00L554.17 590.80L555.27 581.33L556.58 582.88L557.83 583.17L558.97 591.69L560.40 599.67L561.35 589.97L562.60 577.67L564.43 560.07L565.73 562.93L567.00 569.60L568.31 567.46L569.93 566.67L571.36 566.83L572.50 570.33L573.91 566.56L575.07 561.17L576.28 561.67L578.00 560.43L579.04 568.02L580.57 579.50L582.40 586.83L583.92 584.56L585.33 585.00L587.39 588.57L589.00 592.33L590.18 597.54L591.57 599.67L592.38 597.17L593.77 592.33L594.78 602.43L596.33 616.17L598.07 605.19L599.27 592.33L600.73 585.00L601.67 584.84L602.93 588.67L604.50 585.86L605.50 581.33L606.98 584.96L608.07 592.33L609.61 603.49L611.00 616.17L612.31 612.55L613.93 610.67L615.28 608.05L616.50 607.00L618.26 611.53L620.17 619.83L621.65 616.02L622.73 610.67L624.38 604.82L625.67 599.67L627.50 581.33L628.81 570.97L629.70 560.43L631.04 569.43L632.27 577.67L633.69 583.54L634.83 590.50L635.87 586.79L637.40 587.93L638.69 595.99L640.33 608.83L642.03 600.48L643.27 592.33L644.71 591.57L645.83 596.00L647.65 596.19L649.50 592.33L650.86 589.21L652.07 586.83L653.51 585.30L655.00 587.93L655.89 585.61L657.20 586.83" stroke="#7e57c2" stroke-width="1" stroke-opacity=".95" fill="none" stroke-linejoin="round"/>
<text x="22.80" y="548.70" font-size="8.00" fill="#d1d4dc" text-anchor="start" font-weight="normal" textLength="12.50" lengthAdjust="spacingAndGlyphs" >MFI</text>
<text x="39.00" y="548.70" font-size="8.00" fill="#9598a1" text-anchor="start" font-weight="normal" textLength="8.00" lengthAdjust="spacingAndGlyphs" >14</text>
<text x="52.90" y="548.70" font-size="8.00" fill="#7e57c2" text-anchor="start" font-weight="normal" textLength="20.50" lengthAdjust="spacingAndGlyphs" >58.80</text>
</g>
<g clip-path="url(#cpa)">
<text x="911.30" y="520.76" font-size="8.60" fill="#c9ccd5" text-anchor="start" font-weight="normal" textLength="32.00" lengthAdjust="spacingAndGlyphs" stroke="#c9ccd5" stroke-width=".22">17600.00</text>
<text x="911.30" y="498.79" font-size="8.60" fill="#c9ccd5" text-anchor="start" font-weight="normal" textLength="32.00" lengthAdjust="spacingAndGlyphs" stroke="#c9ccd5" stroke-width=".22">17800.00</text>
<text x="911.30" y="476.82" font-size="8.60" fill="#c9ccd5" text-anchor="start" font-weight="normal" textLength="32.00" lengthAdjust="spacingAndGlyphs" stroke="#c9ccd5" stroke-width=".22">18000.00</text>
<text x="911.30" y="454.85" font-size="8.60" fill="#c9ccd5" text-anchor="start" font-weight="normal" textLength="32.00" lengthAdjust="spacingAndGlyphs" stroke="#c9ccd5" stroke-width=".22">18200.00</text>
<text x="911.30" y="432.88" font-size="8.60" fill="#c9ccd5" text-anchor="start" font-weight="normal" textLength="32.00" lengthAdjust="spacingAndGlyphs" stroke="#c9ccd5" stroke-width=".22">18400.00</text>
<text x="911.30" y="410.91" font-size="8.60" fill="#c9ccd5" text-anchor="start" font-weight="normal" textLength="32.00" lengthAdjust="spacingAndGlyphs" stroke="#c9ccd5" stroke-width=".22">18600.00</text>
<text x="911.30" y="388.94" font-size="8.60" fill="#c9ccd5" text-anchor="start" font-weight="normal" textLength="32.00" lengthAdjust="spacingAndGlyphs" stroke="#c9ccd5" stroke-width=".22">18800.00</text>
<text x="911.30" y="366.97" font-size="8.60" fill="#c9ccd5" text-anchor="start" font-weight="normal" textLength="32.00" lengthAdjust="spacingAndGlyphs" stroke="#c9ccd5" stroke-width=".22">19000.00</text>
<text x="911.30" y="345.00" font-size="8.60" fill="#c9ccd5" text-anchor="start" font-weight="normal" textLength="32.00" lengthAdjust="spacingAndGlyphs" stroke="#c9ccd5" stroke-width=".22">19200.00</text>
<text x="911.30" y="323.03" font-size="8.60" fill="#c9ccd5" text-anchor="start" font-weight="normal" textLength="32.00" lengthAdjust="spacingAndGlyphs" stroke="#c9ccd5" stroke-width=".22">19400.00</text>
<text x="911.30" y="301.06" font-size="8.60" fill="#c9ccd5" text-anchor="start" font-weight="normal" textLength="32.00" lengthAdjust="spacingAndGlyphs" stroke="#c9ccd5" stroke-width=".22">19600.00</text>
<text x="911.30" y="279.09" font-size="8.60" fill="#c9ccd5" text-anchor="start" font-weight="normal" textLength="32.00" lengthAdjust="spacingAndGlyphs" stroke="#c9ccd5" stroke-width=".22">19800.00</text>
<text x="911.30" y="257.12" font-size="8.60" fill="#c9ccd5" text-anchor="start" font-weight="normal" textLength="32.00" lengthAdjust="spacingAndGlyphs" stroke="#c9ccd5" stroke-width=".22">20000.00</text>
<text x="911.30" y="235.15" font-size="8.60" fill="#c9ccd5" text-anchor="start" font-weight="normal" textLength="32.00" lengthAdjust="spacingAndGlyphs" stroke="#c9ccd5" stroke-width=".22">20200.00</text>
<text x="911.30" y="213.18" font-size="8.60" fill="#c9ccd5" text-anchor="start" font-weight="normal" textLength="32.00" lengthAdjust="spacingAndGlyphs" stroke="#c9ccd5" stroke-width=".22">20400.00</text>
<text x="911.30" y="191.21" font-size="8.60" fill="#c9ccd5" text-anchor="start" font-weight="normal" textLength="32.00" lengthAdjust="spacingAndGlyphs" stroke="#c9ccd5" stroke-width=".22">20600.00</text>
<text x="911.30" y="169.24" font-size="8.60" fill="#c9ccd5" text-anchor="start" font-weight="normal" textLength="32.00" lengthAdjust="spacingAndGlyphs" stroke="#c9ccd5" stroke-width=".22">20800.00</text>
<text x="911.30" y="147.27" font-size="8.60" fill="#c9ccd5" text-anchor="start" font-weight="normal" textLength="32.00" lengthAdjust="spacingAndGlyphs" stroke="#c9ccd5" stroke-width=".22">21000.00</text>
<text x="911.30" y="125.30" font-size="8.60" fill="#c9ccd5" text-anchor="start" font-weight="normal" textLength="32.00" lengthAdjust="spacingAndGlyphs" stroke="#c9ccd5" stroke-width=".22">21200.00</text>
<text x="911.30" y="103.33" font-size="8.60" fill="#c9ccd5" text-anchor="start" font-weight="normal" textLength="32.00" lengthAdjust="spacingAndGlyphs" stroke="#c9ccd5" stroke-width=".22">21400.00</text>
<text x="911.30" y="640.59" font-size="8.60" fill="#c9ccd5" text-anchor="start" font-weight="normal" textLength="20.50" lengthAdjust="spacingAndGlyphs" stroke="#c9ccd5" stroke-width=".22">20.00</text>
<text x="911.30" y="614.93" font-size="8.60" fill="#c9ccd5" text-anchor="start" font-weight="normal" textLength="20.50" lengthAdjust="spacingAndGlyphs" stroke="#c9ccd5" stroke-width=".22">40.00</text>
<text x="911.30" y="589.27" font-size="8.60" fill="#c9ccd5" text-anchor="start" font-weight="normal" textLength="20.50" lengthAdjust="spacingAndGlyphs" stroke="#c9ccd5" stroke-width=".22">60.00</text>
<text x="911.30" y="563.61" font-size="8.60" fill="#c9ccd5" text-anchor="start" font-weight="normal" textLength="20.50" lengthAdjust="spacingAndGlyphs" stroke="#c9ccd5" stroke-width=".22">80.00</text>
<text x="911.30" y="537.95" font-size="8.60" fill="#c9ccd5" text-anchor="start" font-weight="normal" textLength="25.00" lengthAdjust="spacingAndGlyphs" stroke="#c9ccd5" stroke-width=".22">100.00</text>
<rect x="905" y="82" width="44" height="17.1" fill="#161a26"/>
<rect x="905" y="526" width="44" height="8.5" fill="#161a26"/>
<text x="911.10" y="93.40" font-size="8.40" fill="#d1d4dc" text-anchor="start" font-weight="normal" textLength="17.60" lengthAdjust="spacingAndGlyphs" >USDT</text>
</g>
<rect x="904.8" y="325" width="42.2" height="11" fill="#26a69a"/>
<text x="911.30" y="333.80" font-size="8.60" fill="#ffffff" text-anchor="start" font-weight="bold" textLength="32.00" lengthAdjust="spacingAndGlyphs" >19306.23</text>
<text x="41.00" y="670.00" font-size="8.60" fill="#c9ccd5" text-anchor="middle" font-weight="normal" textLength="8.00" lengthAdjust="spacingAndGlyphs" stroke="#c9ccd5" stroke-width=".22">15</text>
<text x="98.35" y="670.00" font-size="8.60" fill="#c9ccd5" text-anchor="middle" font-weight="normal" textLength="8.00" lengthAdjust="spacingAndGlyphs" stroke="#c9ccd5" stroke-width=".22">16</text>
<text x="155.70" y="670.00" font-size="8.60" fill="#c9ccd5" text-anchor="middle" font-weight="normal" textLength="8.00" lengthAdjust="spacingAndGlyphs" stroke="#c9ccd5" stroke-width=".22">17</text>
<text x="213.05" y="670.00" font-size="8.60" fill="#c9ccd5" text-anchor="middle" font-weight="normal" textLength="8.00" lengthAdjust="spacingAndGlyphs" stroke="#c9ccd5" stroke-width=".22">18</text>
<text x="270.40" y="670.00" font-size="8.60" fill="#c9ccd5" text-anchor="middle" font-weight="normal" textLength="8.00" lengthAdjust="spacingAndGlyphs" stroke="#c9ccd5" stroke-width=".22">19</text>
<text x="327.75" y="670.00" font-size="8.60" fill="#c9ccd5" text-anchor="middle" font-weight="normal" textLength="8.00" lengthAdjust="spacingAndGlyphs" stroke="#c9ccd5" stroke-width=".22">20</text>
<text x="385.10" y="670.00" font-size="8.60" fill="#c9ccd5" text-anchor="middle" font-weight="normal" textLength="8.00" lengthAdjust="spacingAndGlyphs" stroke="#c9ccd5" stroke-width=".22">21</text>
<text x="442.45" y="670.00" font-size="8.60" fill="#c9ccd5" text-anchor="middle" font-weight="normal" textLength="8.00" lengthAdjust="spacingAndGlyphs" stroke="#c9ccd5" stroke-width=".22">22</text>
<text x="499.80" y="670.00" font-size="8.60" fill="#c9ccd5" text-anchor="middle" font-weight="normal" textLength="8.00" lengthAdjust="spacingAndGlyphs" stroke="#c9ccd5" stroke-width=".22">23</text>
<text x="557.15" y="670.00" font-size="8.60" fill="#c9ccd5" text-anchor="middle" font-weight="normal" textLength="8.00" lengthAdjust="spacingAndGlyphs" stroke="#c9ccd5" stroke-width=".22">24</text>
<text x="614.50" y="670.00" font-size="8.60" fill="#c9ccd5" text-anchor="middle" font-weight="normal" textLength="8.00" lengthAdjust="spacingAndGlyphs" stroke="#c9ccd5" stroke-width=".22">25</text>
<text x="671.85" y="670.00" font-size="8.60" fill="#c9ccd5" text-anchor="middle" font-weight="normal" textLength="8.00" lengthAdjust="spacingAndGlyphs" stroke="#c9ccd5" stroke-width=".22">26</text>
<text x="729.20" y="670.00" font-size="8.60" fill="#c9ccd5" text-anchor="middle" font-weight="normal" textLength="8.00" lengthAdjust="spacingAndGlyphs" stroke="#c9ccd5" stroke-width=".22">27</text>
<text x="786.55" y="670.00" font-size="8.60" fill="#c9ccd5" text-anchor="middle" font-weight="normal" textLength="8.00" lengthAdjust="spacingAndGlyphs" stroke="#c9ccd5" stroke-width=".22">28</text>
<text x="843.90" y="670.00" font-size="8.60" fill="#c9ccd5" text-anchor="middle" font-weight="normal" textLength="8.00" lengthAdjust="spacingAndGlyphs" stroke="#c9ccd5" stroke-width=".22">29</text>
<clipPath id="cp30"><rect x="880" y="659" width="24" height="16"/></clipPath><g clip-path="url(#cp30)">
<text x="902.35" y="670.00" font-size="8.60" fill="#c9ccd5" text-anchor="middle" font-weight="normal" textLength="8.00" lengthAdjust="spacingAndGlyphs" stroke="#c9ccd5" stroke-width=".22">30</text>
</g>
<text x="22.90" y="96.60" font-size="10.20" fill="#d1d4dc" text-anchor="start" font-weight="normal" textLength="86.00" lengthAdjust="spacingAndGlyphs" >Bitcoin / TetherUS</text>
<text x="111.70" y="96.60" font-size="10.20" fill="#787b86" text-anchor="start" font-weight="normal" >·</text>
<text x="129.90" y="96.60" font-size="10.20" fill="#787b86" text-anchor="start" font-weight="normal" >·</text>
<text x="178.50" y="96.60" font-size="10.20" fill="#787b86" text-anchor="start" font-weight="normal" >·</text>
<text x="117.40" y="96.60" font-size="10.20" fill="#d1d4dc" text-anchor="start" font-weight="normal" textLength="9.60" lengthAdjust="spacingAndGlyphs" >30</text>
<text x="136.00" y="96.60" font-size="10.20" fill="#d1d4dc" text-anchor="start" font-weight="normal" textLength="39.10" lengthAdjust="spacingAndGlyphs" >BINANCE</text>
<text x="183.90" y="96.60" font-size="10.20" fill="#d1d4dc" text-anchor="start" font-weight="normal" textLength="55.90" lengthAdjust="spacingAndGlyphs" >TradingView</text>
<text x="245.90" y="96.87" font-size="9.81" fill="#d1d4dc" text-anchor="start" font-weight="normal">시</text>
<text x="255.40" y="96.40" font-size="8.80" fill="#26a69a" text-anchor="start" font-weight="normal" textLength="33.50" lengthAdjust="spacingAndGlyphs" >19289.70</text>
<text x="293.50" y="96.71" font-size="8.93" fill="#d1d4dc" text-anchor="start" font-weight="normal">고</text>
<text x="302.40" y="96.40" font-size="8.80" fill="#26a69a" text-anchor="start" font-weight="normal" textLength="34.00" lengthAdjust="spacingAndGlyphs" >19319.99</text>
<text x="341.00" y="96.79" font-size="9.58" fill="#d1d4dc" text-anchor="start" font-weight="normal">저</text>
<text x="349.80" y="96.40" font-size="8.80" fill="#26a69a" text-anchor="start" font-weight="normal" textLength="33.60" lengthAdjust="spacingAndGlyphs" >19288.78</text>
<text x="387.80" y="96.41" font-size="9.05" fill="#d1d4dc" text-anchor="start" font-weight="normal">종</text>
<text x="396.70" y="96.40" font-size="8.80" fill="#26a69a" text-anchor="start" font-weight="normal" textLength="34.20" lengthAdjust="spacingAndGlyphs" >19306.23</text>
<text x="435.00" y="96.40" font-size="8.80" fill="#26a69a" text-anchor="start" font-weight="normal" textLength="25.20" lengthAdjust="spacingAndGlyphs" >+17.07</text>
<text x="463.60" y="96.40" font-size="8.80" fill="#26a69a" text-anchor="start" font-weight="normal" textLength="31.30" lengthAdjust="spacingAndGlyphs" >(+0.09%)</text>
<text x="22.70" y="112.37" font-size="9.32" fill="#d1d4dc" text-anchor="start" font-weight="normal" stroke="#d1d4dc" stroke-width=".2" textLength="16.90" lengthAdjust="spacingAndGlyphs">볼륨</text>
<text x="45.50" y="112.00" font-size="8.60" fill="#26a69a" text-anchor="start" font-weight="normal" textLength="25.30" lengthAdjust="spacingAndGlyphs" >1.225K</text>
<text x="22.90" y="127.70" font-size="8.40" fill="#d1d4dc" text-anchor="start" font-weight="normal" textLength="10.90" lengthAdjust="spacingAndGlyphs" >MA</text>
<text x="36.70" y="127.70" font-size="8.40" fill="#b2b5be" text-anchor="start" font-weight="normal" textLength="61.30" lengthAdjust="spacingAndGlyphs" >20 close 0 SMA 5</text>
<text x="104.50" y="127.70" font-size="8.60" fill="#ff9800" text-anchor="start" font-weight="normal" textLength="33.10" lengthAdjust="spacingAndGlyphs" >19318.02</text>
<text x="22.90" y="143.10" font-size="8.40" fill="#d1d4dc" text-anchor="start" font-weight="normal" textLength="12.50" lengthAdjust="spacingAndGlyphs" >Env</text>
<text x="38.50" y="143.10" font-size="8.40" fill="#b2b5be" text-anchor="start" font-weight="normal" textLength="38.00" lengthAdjust="spacingAndGlyphs" >20 3 close</text>
<text x="82.50" y="143.10" font-size="8.60" fill="#ff6d00" text-anchor="start" font-weight="normal" textLength="33.10" lengthAdjust="spacingAndGlyphs" >19318.02</text>
<text x="120.80" y="143.10" font-size="8.60" fill="#2962ff" text-anchor="start" font-weight="normal" textLength="33.40" lengthAdjust="spacingAndGlyphs" >19897.56</text>
<text x="158.80" y="143.10" font-size="8.60" fill="#2962ff" text-anchor="start" font-weight="normal" textLength="33.70" lengthAdjust="spacingAndGlyphs" >18738.48</text>
<rect x="23.5" y="149.5" width="18" height="13" rx="1.5" fill="#161a26" stroke="#363a45" stroke-width="1"/>
<path d="M30 157.4L32.5 154.9L35 157.4" stroke="#d1d4dc" stroke-width="1.2" fill="none"/></svg></body></html>
